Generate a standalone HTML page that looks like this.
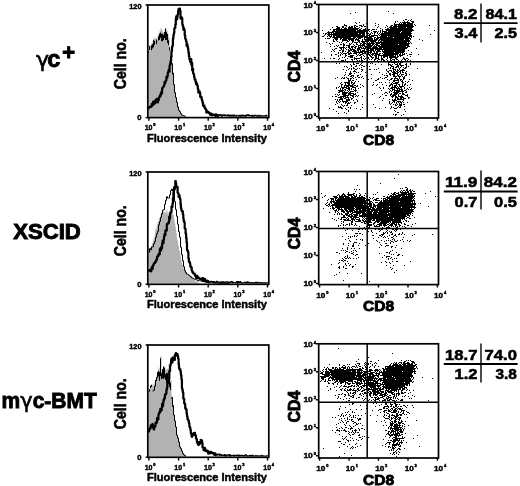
<!DOCTYPE html><html><head><meta charset="utf-8"><style>html,body{margin:0;padding:0;background:#fff;width:520px;height:486px;overflow:hidden}svg{display:block}text{font-family:'Liberation Sans',Arial,Helvetica,sans-serif;font-weight:bold;stroke:#000;stroke-width:0.45px}.h1{stroke-width:0.9px}.h2{stroke-width:0.6px}.h3{stroke-width:0.45px}</style></head><body>
<svg width="520" height="486" viewBox="0 0 520 486">
<rect width="520" height="486" fill="#fff"/>
<text x="36" y="66.9" font-size="22" style="font-family:'DejaVu Sans',sans-serif;font-weight:normal;stroke-width:0.6px">γ</text>
<text x="47.3" y="66.6" font-size="23.5" class="h1">c</text>
<text x="62.3" y="60" font-size="22" class="h1">+</text>
<text x="13.2" y="238.9" font-size="21.6" text-anchor="start" textLength="67.6" lengthAdjust="spacingAndGlyphs" class="h1">XSCID</text>
<text x="1.6" y="408.2" font-size="21.6" text-anchor="start" textLength="95.2" lengthAdjust="spacingAndGlyphs" class="h1">m<tspan style="font-family:'DejaVu Sans',sans-serif;font-weight:normal;stroke-width:0.6px">γ</tspan>c-BMT</text>
<path d="M148.5 51.6H149V54H149.4V51.8H149.9V52.2H150.4V52.1H150.8V51.1H151.3V50.1H151.8V51.8H152.3V51.1H152.7V48.5H153.2V52.1H153.7V50.3H154.1V48.1H154.6V49.3H155.1V47.5H155.5V47.4H156V47.8H156.5V45.2H157V46.6H157.4V47H157.9V46.5H158.4V44.5H158.8V45.5H159.3V42.7H159.8V43.9H160.2V44.4H160.7V42.4H161.2V43.5H161.7V45.2H162.1V45.8H162.6V43.9H163.1V43.9H163.5V42.1H164V42H164.5V41.9H164.9V44H165.4V44.6H165.9V43.5H166.4V43.3H166.8V45.1H167.3V45.9H167.8V46.4H168.2V48.8H168.7V48.7H169.2V50.6H169.6V51.4H170.1V54.4H170.6V57.3H171.1V60.3H171.5V65.1H172V70.3H172.5V74.9H172.9V79.6H173.4V84.1H173.9V88.6H174.3V90.8H174.8V93.9H175.3V95.3H175.8V98.8H176.2V100.6H176.7V103.3H177.2V105.1H177.6V106.3H178.1V108.1H178.6V109.2H179V110.8H179.5V112H180V112.3H180.5V113.5H180.9V113.8H181.4V114.7H181.9V114.8H182.3V115.2H182.8V115.5H183.3V115.4H183.7V115.7H184.2V116.1H184.7V116H185.2V116.1H185.6V116.4H186.1V116.5L186.1 116.7L148.5 116.7Z" fill="#b2b2b2" stroke="none"/>
<path d="M148.5 51.1H149.5V45.5H150.5V44.2H151.5V43H152.5V42.5H153.5V37.6H154.5V38.8H155.5V37.7H156.5V39.3H157.5V35.5H158.5V33.4H159.5V30.9H160.5V28.3H161.5V29.9H162.5V32.2H163.5V32.4H164.5V29.5H165.5V28.1H166.5V30.8H167.5V33.8H168.5V37.5H169.5V47.3H170.5V56H171.5V63.5H172.5V73.1H173.5V84.5H174.5V92.6H175.5V97.5H176.5V102.4H177.5V107H178.5V110.3H179.5V111.7H180.5V113.7H181.5V115H182.5V115.5H183.5V115.9H184.5V116.1H185.5V116.3L185.5 116.7L148.5 116.7Z" fill="#b2b2b2" stroke="none"/>
<path d="M148.5 51.2V52.5M149.5 46.1V50.1M151.5 45.5V50.2M152.5 44.2V48.5M153.5 40.2V47.3M154.5 40.9V44.8M156.5 39.7V44.1M158.5 36.4V40.4M159.5 33.7V39.9M160.5 32.6V37.8M161.5 33.9V41.1M162.5 33.9V41.3M163.5 34.8V40.1M164.5 32.1V38M165.5 28.6V40M166.5 32.1V39.9M167.5 34V42.9M168.5 40.3V45.2M169.5 47.3V50.4M171.5 63.5V64.5M172.5 73.2V74.5" stroke="#000" stroke-width="1" fill="none"/>
<path d="M170.5 56H171.5V63.5H172.5V73.1H173.5V84.5H174.5V92.6H175.5V97.5H176.5V102.4H177.5V107H178.5V110.3H179.5V111.7H180.5V113.7H181.5V115H182.5V115.5H183.5V115.9H184.5V116.1H185.5V116.3" fill="none" stroke="#000" stroke-width="1.0"/>
<path d="M148.5 108.3H149V107.4H149.4V106.8H149.9V106.9H150.4V106.6H150.8V106.9H151.3V105.9H151.8V103.9H152.3V105.5H152.7V105H153.2V101.5H153.7V103.7H154.1V103.6H154.6V103.4H155.1V102.6H155.5V100H156V100.8H156.5V98.9H157V100.1H157.4V102.4H157.9V100.4H158.4V100.2H158.8V98H159.3V96.9H159.8V95.7H160.2V96H160.7V93.3H161.2V92.2H161.7V93.5H162.1V88.7H162.6V87.3H163.1V87H163.5V86.3H164V85H164.5V82.1H164.9V82.9H165.4V81H165.9V80.6H166.4V76.9H166.8V77.7H167.3V76H167.8V72.7H168.2V71.9H168.7V69.6H169.2V71.6H169.6V65.6H170.1V63.7H170.6V61.2H171.1V57.1H171.5V51.3H172V46.9H172.5V45.4H172.9V38.4H173.4V35H173.9V32.9H174.3V28.4H174.8V28H175.3V24.7H175.8V18.7H176.2V16.3H176.7V19.3H177.2V16.9H177.6V14.6H178.1V11.1H178.6V8.8H179V10.5H179.5V8.5H180V10.9H180.5V18.6H180.9V18H181.4V17.3H181.9V18.6H182.3V24.6H182.8V26.5H183.3V29.7H183.7V28.3H184.2V30.3H184.7V35.3H185.2V38.7H185.6V39.8H186.1V41.6H186.6V45.8H187V44.4H187.5V46.9H188V49.2H188.4V52.5H188.9V56.4H189.4V59.4H189.9V59.3H190.3V62.2H190.8V59.2H191.3V64.8H191.7V62.9H192.2V70.4H192.7V68.9H193.1V73.3H193.6V74.5H194.1V77.3H194.6V79.5H195V79.6H195.5V81.7H196V84.1H196.4V83.2H196.9V85.1H197.4V85.8H197.8V88.9H198.3V92.6H198.8V92.6H199.3V91.4H199.7V93H200.2V97H200.7V96.6H201.1V97.1H201.6V99.3H202.1V100.9H202.5V102.7H203V105.7H203.5V106.1H204V105.6H204.4V107.6H204.9V108.2H205.4V109.2H205.8V109.5H206.3V112.4H206.8V111.1H207.2V112.1H207.7V112.6H208.2V112H208.7V112.9H209.1V113.2H209.6V113.3H210.1V114.8H210.5V113.8H211V113.7H211.5V114.5H211.9V115.3H212.4V115.1H212.9V114.5H213.4V114.6H213.8V114.8H214.3V115H214.8V115.5H215.2V115.8H215.7V114.3H216.2V115.4H216.6V114.9H217.1V115.8H217.6V115.9H218.1V115.2" fill="none" stroke="#000" stroke-width="2.2" stroke-linejoin="round"/>
<path d="M218.1 114.9H218.5V115H219V114.8H219.5V115.4H219.9V114.6H220.4V114.8H220.9V115H221.3V115.9H221.8V116.3H222.3V115.4H222.8V114.8H223.2V115.4H223.7V115H224.2V115.6H224.6V114.9H225.1V115.2H225.6V115.4H226V115.6H226.5V115.4H227V116H227.5V115.5H227.9V114.7H228.4V115.9H228.9V115.4H229.3V115.2H229.8V116.1H230.3V115.1H230.7V115.5H231.2V115.2H231.7V116.1H232.2V115.4H232.6V115.6H233.1V115H233.6V116.2H234V115.1H234.5V116H235V116H235.4V116.1H235.9V116.3H236.4V115.2H236.9V115.8H237.3V115.7H237.8V115.8H238.3V116.1H238.7V115.7H239.2V115.4H239.7V115.7H240.1V116.3H240.6V115.2H241.1V115.7H241.6V115.3H242V116.1H242.5V115H243V115.5H243.4V115.6H243.9V115.7H244.4V116.3H244.8V116.3H245.3V115.2H245.8V116.3H246.3V115.2H246.7V114.9H247.2V115H247.7V115.7H248.1V115.8H248.6V114.7H249.1V115.8H249.5V115.5H250V115.9H250.5V115.5H251V116H251.4V115.9H251.9V115.2H252.4V116.2H252.8V115.7H253.3V116H253.8V116.2H254.2V115.3H254.7V115.7H255.2V115.4H255.7V115.3H256.1V115.8H256.6V115.9H257.1V116.3H257.5V116.3H258V115.8H258.5V115.4H258.9V116.3H259.4V116.3H259.9V115.8H260.4V115.5H260.8V115.7H261.3V115.9H261.8V116.2H262.2V116.2H262.7V116H263.2V115.7H263.6V115.9H264.1V115.7H264.6V115.9H265.1V115.8H265.5V116.1H266V115.2H266.5V115.8H266.9V115.8H267.4V115.5" fill="none" stroke="#000" stroke-width="1.1"/>
<rect x="147.8" y="5" width="121" height="112.6" fill="none" stroke="#000" stroke-width="1.7"/>
<path d="M148.9 117.6v3.2M178.6 117.6v3.2M208.2 117.6v3.2M237.8 117.6v3.2M267.5 117.6v3.2M145.6 5h2.2M145.6 117.6h2.2" stroke="#000" stroke-width="1.4" fill="none"/>
<text x="141.5" y="9" font-size="7.6" text-anchor="end" textLength="12.2" lengthAdjust="spacingAndGlyphs">120</text>
<text x="141.5" y="120" font-size="7.6" text-anchor="end">0</text>
<text x="148.6" y="129.8" font-size="8" text-anchor="middle" textLength="7.8" lengthAdjust="spacingAndGlyphs">10</text>
<text x="153.2" y="126.2" font-size="4" text-anchor="start">0</text>
<text x="178.2" y="129.8" font-size="8" text-anchor="middle" textLength="7.8" lengthAdjust="spacingAndGlyphs">10</text>
<text x="182.9" y="126.2" font-size="4" text-anchor="start">1</text>
<text x="207.9" y="129.8" font-size="8" text-anchor="middle" textLength="7.8" lengthAdjust="spacingAndGlyphs">10</text>
<text x="212.5" y="126.2" font-size="4" text-anchor="start">2</text>
<text x="237.5" y="129.8" font-size="8" text-anchor="middle" textLength="7.8" lengthAdjust="spacingAndGlyphs">10</text>
<text x="242.2" y="126.2" font-size="4" text-anchor="start">3</text>
<text x="267.2" y="129.8" font-size="8" text-anchor="middle" textLength="7.8" lengthAdjust="spacingAndGlyphs">10</text>
<text x="271.8" y="126.2" font-size="4" text-anchor="start">4</text>
<text x="147" y="141.7" font-size="10.6" text-anchor="start" textLength="120" lengthAdjust="spacingAndGlyphs" class="h3">Fluorescence Intensity</text>
<text transform="translate(125.6 63.8) rotate(-90)" x="0" y="0" font-size="15.6" text-anchor="middle" textLength="51" lengthAdjust="spacingAndGlyphs" class="h2">Cell no.</text>
<path d="M148.5 249.9H149V248.7H149.4V248.4H149.9V248.1H150.4V247.4H150.8V245.9H151.3V245.9H151.8V244.1H152.3V243H152.7V241.7H153.2V239.8H153.7V238.4H154.1V237.7H154.6V234.5H155.1V231.2H155.5V229H156V229.1H156.5V226.4H157V225.1H157.4V223.2H157.9V221.9H158.4V220.7H158.8V218.3H159.3V218.1H159.8V217.6H160.2V216.3H160.7V213.2H161.2V212.9H161.7V212.2H162.1V212.7H162.6V213.5H163.1V212.6H163.5V210.2H164V211.7H164.5V212.2H164.9V210.6H165.4V213.1H165.9V210.6H166.4V212.7H166.8V214H167.3V210.5H167.8V211.6H168.2V212.8H168.7V215H169.2V211.1H169.6V213.8H170.1V213.8H170.6V213.1H171.1V212.7H171.5V213H172V213.2H172.5V212.2H172.9V215.1H173.4V214.7H173.9V218.1H174.3V220.5H174.8V223.7H175.3V227.2H175.8V229.5H176.2V233H176.7V237.6H177.2V239.9H177.6V241.6H178.1V245.3H178.6V246.9H179V250.4H179.5V251.5H180V254H180.5V256.5H180.9V260H181.4V261.7H181.9V263.8H182.3V265H182.8V266.6H183.3V268H183.7V269.6H184.2V270.4H184.7V270.7H185.2V271.6H185.6V273.2H186.1V274.1H186.6V274.5H187V274.4H187.5V275.8H188V275.6H188.4V275.7H188.9V275.9H189.4V276H189.9V277H190.3V277.2H190.8V276.5H191.3V277H191.7V277.4H192.2V277.9H192.7V277.4H193.1V279H193.6V279.7H194.1V279.8H194.6V280.4H195V281.3H195.5V281.3H196V281.2H196.4V281.5H196.9V281.8H197.4V282H197.8V282.5H198.3V282.6H198.8V283H199.3V283.3H199.7V283.4L199.7 283.4L148.5 283.4Z" fill="#b2b2b2" stroke="none"/>
<path d="M148.5 252.2H149.5V248.6H150.5V249.8H151.5V247H152.5V246.8H153.5V243.8H154.5V241.4H155.5V237.3H156.5V233.8H157.5V231.3H158.5V224.8H159.5V221.5H160.5V217.3H161.5V213.8H162.5V210.2H163.5V209.5H164.5V204.3H165.5V200.4H166.5V196.7H167.5V198.1H168.5V198H169.5V194.9H170.5V190.6H171.5V189.1H172.5V191.1H173.5V186.7H174.5V201.6H175.5V209.6H176.5V216.3H177.5V224.2H178.5V231.7H179.5V237.2H180.5V247.3H181.5V254.7H182.5V260.8H183.5V266.7H184.5V270.6H185.5V272.6H186.5V274.1H187.5V274.5H188.5V275.3H189.5V276H190.5V276.8H191.5V277.9H192.5V278.4H193.5V278.9H194.5V279.3H195.5V279.7H196.5V279.9H197.5V280.9H198.5V280.6H199.5V280.8H200.5V281H201.5V280.7H202.5V281.5H203.5V281.7H204.5V281.8H205.5V282H206.5V282.4H207.5V282.3H208.5V282.4H209.5V282.8H210.5V282.5H211.5V282.4H212.5V282.8H213.5V282.9H214.5V282.7H215.5V283.2H216.5V283H217.5V283H218.5V283H219.5V283.1H220.5V283.3H221.5V283.2H222.5V283.3H223.5V283.1H224.5V283.4H225.5V283.4H226.5V283.2H227.5V282.8H228.5V283.3H229.5V283.4" fill="none" stroke="#000" stroke-width="1.0" stroke-linejoin="miter"/>
<path d="M148.5 270.8H149V270.6H149.4V270.2H149.9V270.2H150.4V271.2H150.8V271.3H151.3V268.7H151.8V267.2H152.3V268.9H152.7V265.9H153.2V265.1H153.7V263.8H154.1V263H154.6V263H155.1V261.5H155.5V261.7H156V260.1H156.5V259.7H157V257.2H157.4V256.4H157.9V256H158.4V254.6H158.8V253.6H159.3V254.3H159.8V249.4H160.2V248.3H160.7V250.3H161.2V246.9H161.7V248.1H162.1V243.8H162.6V240.5H163.1V243.2H163.5V239.9H164V236.5H164.5V234H164.9V234.9H165.4V230.4H165.9V230.8H166.4V230.6H166.8V224.4H167.3V223.5H167.8V223.6H168.2V223.3H168.7V221.5H169.2V216.5H169.6V218.4H170.1V213.4H170.6V212.2H171.1V212H171.5V206.3H172V207.1H172.5V203.7H172.9V198.4H173.4V192.7H173.9V189.4H174.3V189.4H174.8V187.4H175.3V181.2H175.8V183.3H176.2V187.1H176.7V186.8H177.2V186.9H177.6V192.8H178.1V193.6H178.6V197H179V195.2H179.5V197.3H180V199.3H180.5V204.2H180.9V208.3H181.4V210.6H181.9V211.3H182.3V211.1H182.8V214.4H183.3V218.7H183.7V221H184.2V222.5H184.7V228.5H185.2V228.9H185.6V233.5H186.1V238.1H186.6V242.7H187V250.3H187.5V250.7H188V252.5H188.4V258.5H188.9V261.8H189.4V262H189.9V263.7H190.3V266.4H190.8V267.3H191.3V267.4H191.7V270.5H192.2V272H192.7V272.1H193.1V273.3H193.6V273.7H194.1V273.6H194.6V274.4H195V275.8H195.5V275.5H196V277.7H196.4V278.2H196.9V275.8H197.4V277.6H197.8V277.3H198.3V277.5H198.8V278.3H199.3V278.3H199.7V279H200.2V279H200.7V279.2H201.1V278.6H201.6V279.1H202.1V280.5H202.5V278.1H203V281H203.5V279.7H204V280.9H204.4V278.8H204.9V280.3H205.4V281.2H205.8V281H206.3V281.6H206.8V280.7H207.2V281.1H207.7V281.2H208.2V282H208.7V282.1H209.1V281.9H209.6V281.9" fill="none" stroke="#000" stroke-width="2.2" stroke-linejoin="round"/>
<path d="M209.6 281.6H210.1V281.6H210.5V281.8H211V281.4H211.5V281.8H211.9V281.8H212.4V281.6H212.9V281.6H213.4V282.6H213.8V281.6H214.3V282.1H214.8V282.6H215.2V282.3H215.7V282H216.2V282.5H216.6V281.4H217.1V281.5H217.6V281.9H218.1V282H218.5V282.1H219V282.9H219.5V282.9H219.9V282.2H220.4V282.3H220.9V281.8H221.3V282.4H221.8V281.7H222.3V282.8H222.8V282H223.2V282.5H223.7V281.7H224.2V282.8H224.6V282.5H225.1V283H225.6V282.3H226V281.7H226.5V282H227V281.8H227.5V283H227.9V282.1H228.4V282.1H228.9V282.6H229.3V282.5H229.8V282.6H230.3V282.2H230.7V281.6H231.2V281.9H231.7V281.6H232.2V282.9H232.6V282.8H233.1V282.3H233.6V282.7H234V282.7H234.5V282.7H235V282.7H235.4V282.8H235.9V282.5H236.4V281.7H236.9V281.5H237.3V283H237.8V282.8H238.3V281.6H238.7V282.6H239.2V282.2H239.7V282.3H240.1V281.6H240.6V282.9H241.1V282.5H241.6V282.9H242V283H242.5V283H243V283H243.4V282.7H243.9V282.7H244.4V282.4H244.8V282.8H245.3V282.5H245.8V282.2H246.3V283H246.7V282.9H247.2V281.7H247.7V282H248.1V282.6H248.6V282.2H249.1V283H249.5V282.7H250V282.9H250.5V283H251V283H251.4V282.6H251.9V282.9H252.4V282.8H252.8V283H253.3V282.9H253.8V283H254.2V282.9H254.7V282.6H255.2V282.8H255.7V282.4H256.1V282.9H256.6V283H257.1V282.6H257.5V282.3H258V282.8H258.5V282.7H258.9V282.9H259.4V282.7H259.9V282.9H260.4V282.6H260.8V283H261.3V282.9H261.8V283H262.2V283H262.7V282.9H263.2V283H263.6V282.9H264.1V282.9H264.6V283H265.1V283H265.5V282.7H266V282.8H266.5V282.8H266.9V282.9H267.4V283" fill="none" stroke="#000" stroke-width="1.1"/>
<rect x="147.8" y="172" width="121" height="112.3" fill="none" stroke="#000" stroke-width="1.7"/>
<path d="M148.9 284.3v3.2M178.6 284.3v3.2M208.2 284.3v3.2M237.8 284.3v3.2M267.5 284.3v3.2M145.6 172h2.2M145.6 284.3h2.2" stroke="#000" stroke-width="1.4" fill="none"/>
<text x="141.5" y="176" font-size="7.6" text-anchor="end" textLength="12.2" lengthAdjust="spacingAndGlyphs">120</text>
<text x="141.5" y="286.7" font-size="7.6" text-anchor="end">0</text>
<text x="148.6" y="296.5" font-size="8" text-anchor="middle" textLength="7.8" lengthAdjust="spacingAndGlyphs">10</text>
<text x="153.2" y="292.9" font-size="4" text-anchor="start">0</text>
<text x="178.2" y="296.5" font-size="8" text-anchor="middle" textLength="7.8" lengthAdjust="spacingAndGlyphs">10</text>
<text x="182.9" y="292.9" font-size="4" text-anchor="start">1</text>
<text x="207.9" y="296.5" font-size="8" text-anchor="middle" textLength="7.8" lengthAdjust="spacingAndGlyphs">10</text>
<text x="212.5" y="292.9" font-size="4" text-anchor="start">2</text>
<text x="237.5" y="296.5" font-size="8" text-anchor="middle" textLength="7.8" lengthAdjust="spacingAndGlyphs">10</text>
<text x="242.2" y="292.9" font-size="4" text-anchor="start">3</text>
<text x="267.2" y="296.5" font-size="8" text-anchor="middle" textLength="7.8" lengthAdjust="spacingAndGlyphs">10</text>
<text x="271.8" y="292.9" font-size="4" text-anchor="start">4</text>
<text x="147" y="308.4" font-size="10.6" text-anchor="start" textLength="120" lengthAdjust="spacingAndGlyphs" class="h3">Fluorescence Intensity</text>
<text transform="translate(125.6 230.8) rotate(-90)" x="0" y="0" font-size="15.6" text-anchor="middle" textLength="51" lengthAdjust="spacingAndGlyphs" class="h2">Cell no.</text>
<path d="M148.5 392H149V391H149.4V390.8H149.9V391H150.4V388.4H150.8V389.2H151.3V385.5H151.8V385.5H152.3V387.2H152.7V386.6H153.2V384.6H153.7V383.4H154.1V384H154.6V382.1H155.1V383.6H155.5V383.2H156V382.7H156.5V380.9H157V382.7H157.4V381.4H157.9V381.3H158.4V381.2H158.8V381.6H159.3V382.4H159.8V382.9H160.2V383H160.7V384.7H161.2V382.1H161.7V383.8H162.1V382.1H162.6V382.7H163.1V381.9H163.5V384.5H164V383.6H164.5V383.6H164.9V383.5H165.4V385.3H165.9V384.7H166.4V386.4H166.8V389.2H167.3V387.7H167.8V388.5H168.2V389.4H168.7V392.3H169.2V392.5H169.6V392.6H170.1V393.5H170.6V395.3H171.1V395.6H171.5V401.9H172V403.3H172.5V406.7H172.9V410.3H173.4V412.4H173.9V416H174.3V419.7H174.8V422.7H175.3V424.7H175.8V429.4H176.2V431.4H176.7V434.7H177.2V436.7H177.6V438H178.1V441.5H178.6V442.4H179V443.7H179.5V445.6H180V447.8H180.5V449.1H180.9V449.9H181.4V451.4H181.9V451.8H182.3V453.1H182.8V454.1H183.3V454.7H183.7V455.2H184.2V455.5H184.7V455.9H185.2V456.2H185.6V456.4L185.6 456.4L148.5 456.4Z" fill="#b2b2b2" stroke="none"/>
<path d="M148.5 391.4H149.5V389.2H150.5V385.6H151.5V384.2H152.5V390.9H153.5V390.4H154.5V386.3H155.5V380.2H156.5V375.6H157.5V370.7H158.5V367.6H159.5V369.2H160.5V355.9H161.5V371.6H162.5V368.9H163.5V366.3H164.5V366.3H165.5V370.3H166.5V369.1H167.5V368.6H168.5V363.9H169.5V365.4H170.5V380.2H171.5V397.3H172.5V405.5H173.5V415H174.5V420.9H175.5V427H176.5V435.1H177.5V437.9H178.5V442.1H179.5V446.9H180.5V448.6H181.5V451H182.5V453.4H183.5V454.8H184.5V455.6H185.5V456.3L185.5 456.4L148.5 456.4Z" fill="#b2b2b2" stroke="none"/>
<path d="M149.5 389.4V390.1M150.5 385.7V388.1M151.5 384.8V386.8M155.5 380.2V381.6M156.5 377.3V381M157.5 372.2V378.1M158.5 371V376.3M159.5 372V380.8M160.5 358.2V376.2M161.5 373.2V379.1M162.5 369.1V378.5M163.5 366.5V378.7M164.5 368.1V377.9M165.5 374.2V380M166.5 372.9V382.9M167.5 373.1V386.8M169.5 373.3V387.1M170.5 382.8V389.9M171.5 397.8V398.7M172.5 405.9V406.9" stroke="#000" stroke-width="1" fill="none"/>
<path d="M148.5 391.4H149.5V389.2" fill="none" stroke="#000" stroke-width="1.0"/>
<path d="M152.5 390.9H153.5V390.4H154.5V386.3H155.5V380.2" fill="none" stroke="#000" stroke-width="1.0"/>
<path d="M171.5 397.3H172.5V405.5H173.5V415H174.5V420.9H175.5V427H176.5V435.1H177.5V437.9H178.5V442.1H179.5V446.9H180.5V448.6H181.5V451H182.5V453.4H183.5V454.8H184.5V455.6H185.5V456.3" fill="none" stroke="#000" stroke-width="1.0"/>
<path d="M148.5 431.6H149V430H149.4V428.8H149.9V428.8H150.4V427.4H150.8V425.4H151.3V426.5H151.8V426.7H152.3V424H152.7V427.4H153.2V426.8H153.7V429.4H154.1V426.2H154.6V426.8H155.1V426.1H155.5V422.6H156V422.6H156.5V422.7H157V418.1H157.4V418.7H157.9V419.4H158.4V414.9H158.8V413.6H159.3V412.2H159.8V412.3H160.2V409.1H160.7V410.6H161.2V410.3H161.7V407.7H162.1V403.8H162.6V405.9H163.1V402.4H163.5V400.2H164V398.8H164.5V398.3H164.9V394.7H165.4V394.6H165.9V393.5H166.4V390.2H166.8V388H167.3V381.9H167.8V383.5H168.2V379.5H168.7V378.4H169.2V371.3H169.6V371.1H170.1V365.8H170.6V363.8H171.1V359.8H171.5V358.6H172V362.4H172.5V357.7H172.9V358.7H173.4V358.2H173.9V359.8H174.3V360H174.8V355.1H175.3V354.7H175.8V353.2H176.2V355.3H176.7V355.5H177.2V354.2H177.6V356.2H178.1V358.6H178.6V364.2H179V368.2H179.5V369.6H180V369.4H180.5V372.1H180.9V375H181.4V379.3H181.9V388H182.3V390H182.8V392.6H183.3V398.4H183.7V398.9H184.2V403.4H184.7V404.1H185.2V408.4H185.6V408.4H186.1V409.7H186.6V413.5H187V416.3H187.5V419.2H188V419.8H188.4V421.2H188.9V423.3H189.4V426.7H189.9V427.5H190.3V429.8H190.8V433H191.3V435H191.7V436.8H192.2V435.3H192.7V433.8H193.1V435.2H193.6V434.3H194.1V432.8H194.6V432.9H195V435.1H195.5V435.7H196V438.6H196.4V439H196.9V442.1H197.4V443.5H197.8V443.6H198.3V445H198.8V442.1H199.3V443.3H199.7V443.7H200.2V442.7H200.7V439.8H201.1V441.4H201.6V440.7H202.1V443.2H202.5V447.4H203V447.8H203.5V450.1H204V448.3H204.4V447.8H204.9V449.1H205.4V451H205.8V451H206.3V451.3H206.8V450.6H207.2V450.9H207.7V451H208.2V453.6H208.7V451.8H209.1V453.2H209.6V452H210.1V453.2H210.5V451.8H211V452.3H211.5V453.1H211.9V452.6H212.4V452.9H212.9V453.3H213.4V453.2H213.8V454.6H214.3V454.5H214.8V453.3H215.2V455.2H215.7V454.4H216.2V454.6H216.6V454.6H217.1V455.2" fill="none" stroke="#000" stroke-width="2.2" stroke-linejoin="round"/>
<path d="M217.1 454.9H217.6V454.9H218.1V454.3H218.5V454.7H219V454.1H219.5V455.6H219.9V454.4H220.4V454.5H220.9V454.6H221.3V455.1H221.8V455.4H222.3V455H222.8V455.2H223.2V455.1H223.7V455.8H224.2V455.4H224.6V454.6H225.1V455.9H225.6V455.5H226V456H226.5V455.1H227V455.2H227.5V455.3H227.9V454.8H228.4V455.2H228.9V455.9H229.3V455.7H229.8V454.5H230.3V455.9H230.7V455.6H231.2V455.8H231.7V455.5H232.2V455.5H232.6V455.5H233.1V455.5H233.6V455.1H234V455.9H234.5V455.6H235V455.7H235.4V455.7H235.9V455.4H236.4V455.5H236.9V455.1H237.3V455.7H237.8V455.7H238.3V455.5H238.7V455H239.2V456H239.7V455.5H240.1V455.6H240.6V455.5H241.1V455.4H241.6V455.5H242V455.3H242.5V455.5H243V456H243.4V456H243.9V456H244.4V455.5H244.8V455.1H245.3V455.3H245.8V454.8H246.3V456H246.7V456H247.2V455.8H247.7V455.9H248.1V456H248.6V455.8H249.1V456H249.5V455.5H250V455.7H250.5V455.8H251V455.3H251.4V455.6H251.9V456H252.4V456H252.8V455.2H253.3V456H253.8V456H254.2V456H254.7V456H255.2V456H255.7V455.6H256.1V456H256.6V455.7H257.1V455.9H257.5V456H258V456H258.5V456H258.9V455.9H259.4V456H259.9V456H260.4V456H260.8V456H261.3V455.3H261.8V456H262.2V456H262.7V455.8H263.2V456H263.6V456H264.1V456H264.6V456H265.1V456H265.5V456H266V456H266.5V456H266.9V455.8H267.4V456" fill="none" stroke="#000" stroke-width="1.1"/>
<rect x="147.8" y="345" width="121" height="112.3" fill="none" stroke="#000" stroke-width="1.7"/>
<path d="M148.9 457.3v3.2M178.6 457.3v3.2M208.2 457.3v3.2M237.8 457.3v3.2M267.5 457.3v3.2M145.6 345h2.2M145.6 457.3h2.2" stroke="#000" stroke-width="1.4" fill="none"/>
<text x="141.5" y="349" font-size="7.6" text-anchor="end" textLength="12.2" lengthAdjust="spacingAndGlyphs">120</text>
<text x="141.5" y="459.7" font-size="7.6" text-anchor="end">0</text>
<text x="148.6" y="469.5" font-size="8" text-anchor="middle" textLength="7.8" lengthAdjust="spacingAndGlyphs">10</text>
<text x="153.2" y="465.9" font-size="4" text-anchor="start">0</text>
<text x="178.2" y="469.5" font-size="8" text-anchor="middle" textLength="7.8" lengthAdjust="spacingAndGlyphs">10</text>
<text x="182.9" y="465.9" font-size="4" text-anchor="start">1</text>
<text x="207.9" y="469.5" font-size="8" text-anchor="middle" textLength="7.8" lengthAdjust="spacingAndGlyphs">10</text>
<text x="212.5" y="465.9" font-size="4" text-anchor="start">2</text>
<text x="237.5" y="469.5" font-size="8" text-anchor="middle" textLength="7.8" lengthAdjust="spacingAndGlyphs">10</text>
<text x="242.2" y="465.9" font-size="4" text-anchor="start">3</text>
<text x="267.2" y="469.5" font-size="8" text-anchor="middle" textLength="7.8" lengthAdjust="spacingAndGlyphs">10</text>
<text x="271.8" y="465.9" font-size="4" text-anchor="start">4</text>
<text x="147" y="481.4" font-size="10.6" text-anchor="start" textLength="120" lengthAdjust="spacingAndGlyphs" class="h3">Fluorescence Intensity</text>
<text transform="translate(125.6 403.8) rotate(-90)" x="0" y="0" font-size="15.6" text-anchor="middle" textLength="51" lengthAdjust="spacingAndGlyphs" class="h2">Cell no.</text>
<path d="M321 52.5h1M322 30.5h1M322 36.5h1M323 33.5h1M323 36.5h1M324 35.5h1M324 58.5h1M325 33.5h1M325 34.5h1M325 38.5h1M326 33.5h1M326 42.5h1M327 32.5h1M327 34.5h1M327 36.5h1M327 38.5h1M328 31.5h1M328 32.5h1M328 33.5h1M328 34.5h1M328 35.5h1M328 38.5h1M329 32.5h1M329 33.5h1M329 34.5h1M329 35.5h1M329 36.5h1M329 38.5h1M329 43.5h1M329 108.5h1M330 29.5h1M330 32.5h1M330 34.5h1M330 36.5h1M330 37.5h1M330 44.5h1M330 46.5h1M330 58.5h1M331 32.5h1M331 33.5h1M331 34.5h1M331 35.5h1M331 36.5h1M331 51.5h1M331 54.5h1M331 55.5h1M332 27.5h1M332 31.5h1M332 32.5h1M332 34.5h1M332 37.5h1M332 43.5h1M332 49.5h1M332 96.5h1M333 29.5h1M333 30.5h1M333 31.5h1M333 32.5h1M333 33.5h1M333 34.5h1M333 35.5h1M333 36.5h1M333 37.5h1M333 39.5h1M333 40.5h1M333 41.5h1M333 50.5h1M333 58.5h1M333 109.5h1M334 29.5h1M334 30.5h1M334 31.5h1M334 33.5h1M334 34.5h1M334 35.5h1M334 36.5h1M334 37.5h1M334 38.5h1M334 41.5h1M334 46.5h1M334 49.5h1M334 51.5h1M334 58.5h1M335 29.5h1M335 31.5h1M335 32.5h1M335 33.5h1M335 34.5h1M335 35.5h1M335 37.5h1M335 38.5h1M335 39.5h1M335 48.5h1M335 54.5h1M335 78.5h1M335 94.5h1M335 96.5h1M335 99.5h1M335 104.5h1M336 26.5h1M336 28.5h1M336 29.5h1M336 30.5h1M336 31.5h1M336 32.5h1M336 33.5h1M336 34.5h1M336 35.5h1M336 36.5h1M336 37.5h1M336 38.5h1M336 39.5h1M336 40.5h1M336 45.5h1M336 48.5h1M336 54.5h1M336 63.5h1M336 87.5h1M336 88.5h1M336 96.5h1M336 101.5h1M336 102.5h1M336 111.5h1M337 26.5h1M337 27.5h1M337 28.5h1M337 29.5h1M337 30.5h1M337 31.5h1M337 32.5h1M337 33.5h1M337 34.5h1M337 35.5h1M337 36.5h1M337 37.5h1M337 38.5h1M337 39.5h1M337 41.5h1M337 46.5h1M337 77.5h1M337 94.5h1M337 99.5h1M337 100.5h1M337 103.5h1M338 27.5h1M338 28.5h1M338 29.5h1M338 30.5h1M338 31.5h1M338 32.5h1M338 33.5h1M338 34.5h1M338 35.5h1M338 36.5h1M338 37.5h1M338 45.5h1M338 52.5h1M338 53.5h1M338 55.5h1M338 56.5h1M338 59.5h1M338 87.5h1M338 90.5h1M338 92.5h1M338 95.5h1M338 97.5h1M338 101.5h1M338 106.5h1M338 107.5h1M338 113.5h1M339 27.5h1M339 28.5h1M339 29.5h1M339 30.5h1M339 31.5h1M339 32.5h1M339 33.5h1M339 34.5h1M339 35.5h1M339 36.5h1M339 37.5h1M339 42.5h1M339 47.5h1M339 50.5h1M339 58.5h1M339 63.5h1M339 86.5h1M339 90.5h1M339 91.5h1M339 92.5h1M339 94.5h1M339 97.5h1M339 99.5h1M339 100.5h1M339 102.5h1M339 107.5h1M340 29.5h1M340 30.5h1M340 31.5h1M340 32.5h1M340 33.5h1M340 34.5h1M340 35.5h1M340 36.5h1M340 37.5h1M340 38.5h1M340 39.5h1M340 44.5h1M340 47.5h1M340 48.5h1M340 50.5h1M340 52.5h1M340 54.5h1M340 55.5h1M340 83.5h1M340 88.5h1M340 89.5h1M340 90.5h1M340 91.5h1M340 96.5h1M340 97.5h1M340 98.5h1M340 99.5h1M340 101.5h1M340 106.5h1M340 107.5h1M341 28.5h1M341 29.5h1M341 30.5h1M341 31.5h1M341 32.5h1M341 33.5h1M341 34.5h1M341 35.5h1M341 36.5h1M341 37.5h1M341 38.5h1M341 42.5h1M341 44.5h1M341 47.5h1M341 48.5h1M341 49.5h1M341 53.5h1M341 60.5h1M341 78.5h1M341 82.5h1M341 84.5h1M341 85.5h1M341 86.5h1M341 87.5h1M341 90.5h1M341 91.5h1M341 96.5h1M341 97.5h1M341 98.5h1M341 99.5h1M341 104.5h1M341 107.5h1M341 108.5h1M342 26.5h1M342 27.5h1M342 29.5h1M342 30.5h1M342 31.5h1M342 32.5h1M342 33.5h1M342 34.5h1M342 35.5h1M342 36.5h1M342 37.5h1M342 39.5h1M342 40.5h1M342 41.5h1M342 47.5h1M342 50.5h1M342 51.5h1M342 52.5h1M342 54.5h1M342 57.5h1M342 60.5h1M342 77.5h1M342 84.5h1M342 87.5h1M342 88.5h1M342 89.5h1M342 90.5h1M342 91.5h1M342 92.5h1M342 93.5h1M342 94.5h1M342 96.5h1M342 98.5h1M342 99.5h1M342 100.5h1M342 101.5h1M342 105.5h1M342 108.5h1M343 26.5h1M343 27.5h1M343 29.5h1M343 30.5h1M343 31.5h1M343 32.5h1M343 33.5h1M343 34.5h1M343 35.5h1M343 36.5h1M343 37.5h1M343 38.5h1M343 39.5h1M343 40.5h1M343 43.5h1M343 44.5h1M343 45.5h1M343 46.5h1M343 47.5h1M343 48.5h1M343 49.5h1M343 50.5h1M343 51.5h1M343 53.5h1M343 60.5h1M343 69.5h1M343 78.5h1M343 87.5h1M343 88.5h1M343 90.5h1M343 92.5h1M343 93.5h1M343 94.5h1M343 95.5h1M343 96.5h1M343 97.5h1M343 101.5h1M343 102.5h1M343 106.5h1M344 24.5h1M344 25.5h1M344 28.5h1M344 29.5h1M344 30.5h1M344 31.5h1M344 32.5h1M344 33.5h1M344 34.5h1M344 35.5h1M344 36.5h1M344 37.5h1M344 38.5h1M344 39.5h1M344 40.5h1M344 44.5h1M344 45.5h1M344 47.5h1M344 53.5h1M344 57.5h1M344 66.5h1M344 75.5h1M344 77.5h1M344 78.5h1M344 82.5h1M344 85.5h1M344 86.5h1M344 87.5h1M344 89.5h1M344 91.5h1M344 92.5h1M344 93.5h1M344 94.5h1M344 95.5h1M344 96.5h1M344 98.5h1M344 101.5h1M344 105.5h1M344 112.5h1M345 25.5h1M345 27.5h1M345 28.5h1M345 29.5h1M345 30.5h1M345 31.5h1M345 32.5h1M345 33.5h1M345 34.5h1M345 35.5h1M345 36.5h1M345 37.5h1M345 38.5h1M345 39.5h1M345 40.5h1M345 48.5h1M345 51.5h1M345 53.5h1M345 54.5h1M345 55.5h1M345 56.5h1M345 59.5h1M345 60.5h1M345 72.5h1M345 74.5h1M345 82.5h1M345 83.5h1M345 84.5h1M345 85.5h1M345 87.5h1M345 89.5h1M345 90.5h1M345 92.5h1M345 93.5h1M345 94.5h1M345 95.5h1M345 96.5h1M345 97.5h1M345 98.5h1M345 101.5h1M345 102.5h1M345 103.5h1M345 108.5h1M346 25.5h1M346 26.5h1M346 28.5h1M346 29.5h1M346 30.5h1M346 31.5h1M346 32.5h1M346 33.5h1M346 34.5h1M346 35.5h1M346 36.5h1M346 37.5h1M346 38.5h1M346 39.5h1M346 40.5h1M346 42.5h1M346 45.5h1M346 47.5h1M346 49.5h1M346 53.5h1M346 55.5h1M346 66.5h1M346 70.5h1M346 77.5h1M346 82.5h1M346 85.5h1M346 86.5h1M346 87.5h1M346 88.5h1M346 92.5h1M346 93.5h1M346 95.5h1M346 97.5h1M346 99.5h1M346 100.5h1M346 101.5h1M346 102.5h1M346 105.5h1M346 109.5h1M346 113.5h1M347 29.5h1M347 30.5h1M347 31.5h1M347 32.5h1M347 33.5h1M347 34.5h1M347 35.5h1M347 36.5h1M347 37.5h1M347 38.5h1M347 40.5h1M347 41.5h1M347 45.5h1M347 52.5h1M347 58.5h1M347 61.5h1M347 62.5h1M347 67.5h1M347 78.5h1M347 82.5h1M347 83.5h1M347 85.5h1M347 86.5h1M347 88.5h1M347 90.5h1M347 92.5h1M347 95.5h1M347 96.5h1M347 97.5h1M347 99.5h1M347 100.5h1M347 101.5h1M347 103.5h1M347 104.5h1M347 105.5h1M348 27.5h1M348 28.5h1M348 29.5h1M348 30.5h1M348 31.5h1M348 32.5h1M348 33.5h1M348 34.5h1M348 35.5h1M348 36.5h1M348 37.5h1M348 38.5h1M348 39.5h1M348 41.5h1M348 45.5h1M348 46.5h1M348 47.5h1M348 49.5h1M348 50.5h1M348 51.5h1M348 52.5h1M348 53.5h1M348 54.5h1M348 56.5h1M348 69.5h1M348 75.5h1M348 78.5h1M348 79.5h1M348 80.5h1M348 81.5h1M348 82.5h1M348 83.5h1M348 84.5h1M348 85.5h1M348 86.5h1M348 87.5h1M348 88.5h1M348 89.5h1M348 91.5h1M348 93.5h1M348 94.5h1M348 95.5h1M348 97.5h1M348 98.5h1M348 99.5h1M348 100.5h1M348 102.5h1M348 103.5h1M348 107.5h1M348 110.5h1M348 111.5h1M349 26.5h1M349 27.5h1M349 28.5h1M349 29.5h1M349 30.5h1M349 31.5h1M349 32.5h1M349 33.5h1M349 34.5h1M349 35.5h1M349 36.5h1M349 37.5h1M349 38.5h1M349 39.5h1M349 40.5h1M349 43.5h1M349 44.5h1M349 45.5h1M349 46.5h1M349 47.5h1M349 48.5h1M349 50.5h1M349 51.5h1M349 53.5h1M349 54.5h1M349 56.5h1M349 68.5h1M349 73.5h1M349 74.5h1M349 80.5h1M349 81.5h1M349 82.5h1M349 83.5h1M349 84.5h1M349 85.5h1M349 87.5h1M349 88.5h1M349 89.5h1M349 90.5h1M349 92.5h1M349 93.5h1M349 94.5h1M349 99.5h1M349 100.5h1M349 103.5h1M350 13.5h1M350 27.5h1M350 28.5h1M350 29.5h1M350 30.5h1M350 31.5h1M350 32.5h1M350 33.5h1M350 34.5h1M350 35.5h1M350 36.5h1M350 37.5h1M350 38.5h1M350 39.5h1M350 44.5h1M350 48.5h1M350 49.5h1M350 50.5h1M350 52.5h1M350 53.5h1M350 55.5h1M350 56.5h1M350 57.5h1M350 64.5h1M350 71.5h1M350 72.5h1M350 73.5h1M350 74.5h1M350 76.5h1M350 78.5h1M350 79.5h1M350 80.5h1M350 85.5h1M350 86.5h1M350 91.5h1M350 92.5h1M350 93.5h1M350 94.5h1M350 95.5h1M350 97.5h1M350 102.5h1M350 107.5h1M350 108.5h1M351 26.5h1M351 27.5h1M351 28.5h1M351 29.5h1M351 30.5h1M351 31.5h1M351 32.5h1M351 33.5h1M351 34.5h1M351 35.5h1M351 36.5h1M351 38.5h1M351 39.5h1M351 40.5h1M351 43.5h1M351 46.5h1M351 47.5h1M351 49.5h1M351 50.5h1M351 53.5h1M351 55.5h1M351 56.5h1M351 57.5h1M351 59.5h1M351 65.5h1M351 66.5h1M351 68.5h1M351 69.5h1M351 73.5h1M351 75.5h1M351 76.5h1M351 78.5h1M351 81.5h1M351 82.5h1M351 83.5h1M351 85.5h1M351 86.5h1M351 88.5h1M351 89.5h1M351 91.5h1M351 93.5h1M351 95.5h1M351 98.5h1M351 99.5h1M351 105.5h1M352 26.5h1M352 27.5h1M352 28.5h1M352 29.5h1M352 30.5h1M352 31.5h1M352 32.5h1M352 33.5h1M352 34.5h1M352 35.5h1M352 36.5h1M352 38.5h1M352 39.5h1M352 40.5h1M352 41.5h1M352 42.5h1M352 46.5h1M352 47.5h1M352 48.5h1M352 49.5h1M352 51.5h1M352 55.5h1M352 56.5h1M352 57.5h1M352 59.5h1M352 60.5h1M352 75.5h1M352 77.5h1M352 80.5h1M352 82.5h1M352 84.5h1M352 85.5h1M352 86.5h1M352 87.5h1M352 91.5h1M352 93.5h1M352 95.5h1M352 96.5h1M352 98.5h1M353 28.5h1M353 29.5h1M353 30.5h1M353 31.5h1M353 32.5h1M353 33.5h1M353 34.5h1M353 35.5h1M353 36.5h1M353 37.5h1M353 38.5h1M353 39.5h1M353 40.5h1M353 41.5h1M353 44.5h1M353 46.5h1M353 49.5h1M353 50.5h1M353 51.5h1M353 53.5h1M353 55.5h1M353 62.5h1M353 63.5h1M353 64.5h1M353 67.5h1M353 68.5h1M353 71.5h1M353 75.5h1M353 76.5h1M353 78.5h1M353 80.5h1M353 83.5h1M353 84.5h1M353 86.5h1M353 87.5h1M353 89.5h1M353 91.5h1M353 93.5h1M353 94.5h1M353 95.5h1M353 96.5h1M353 97.5h1M353 100.5h1M354 25.5h1M354 26.5h1M354 27.5h1M354 28.5h1M354 29.5h1M354 30.5h1M354 31.5h1M354 32.5h1M354 33.5h1M354 34.5h1M354 35.5h1M354 36.5h1M354 37.5h1M354 38.5h1M354 42.5h1M354 45.5h1M354 47.5h1M354 49.5h1M354 50.5h1M354 51.5h1M354 52.5h1M354 53.5h1M354 57.5h1M354 58.5h1M354 59.5h1M354 61.5h1M354 64.5h1M354 68.5h1M354 70.5h1M354 71.5h1M354 73.5h1M354 82.5h1M354 83.5h1M354 85.5h1M354 87.5h1M354 90.5h1M354 94.5h1M354 102.5h1M354 103.5h1M355 12.5h1M355 22.5h1M355 25.5h1M355 27.5h1M355 28.5h1M355 29.5h1M355 30.5h1M355 31.5h1M355 32.5h1M355 33.5h1M355 34.5h1M355 35.5h1M355 36.5h1M355 37.5h1M355 39.5h1M355 40.5h1M355 42.5h1M355 46.5h1M355 47.5h1M355 48.5h1M355 50.5h1M355 51.5h1M355 52.5h1M355 53.5h1M355 58.5h1M355 66.5h1M355 69.5h1M355 71.5h1M355 77.5h1M355 81.5h1M355 85.5h1M355 87.5h1M355 88.5h1M355 89.5h1M355 90.5h1M355 91.5h1M355 93.5h1M355 94.5h1M355 96.5h1M355 102.5h1M356 23.5h1M356 26.5h1M356 28.5h1M356 29.5h1M356 31.5h1M356 32.5h1M356 33.5h1M356 34.5h1M356 35.5h1M356 36.5h1M356 38.5h1M356 39.5h1M356 42.5h1M356 43.5h1M356 44.5h1M356 46.5h1M356 51.5h1M356 52.5h1M356 53.5h1M356 54.5h1M356 56.5h1M356 58.5h1M356 59.5h1M356 63.5h1M356 65.5h1M356 66.5h1M356 69.5h1M356 72.5h1M356 79.5h1M356 86.5h1M356 90.5h1M356 95.5h1M356 99.5h1M356 108.5h1M357 26.5h1M357 28.5h1M357 29.5h1M357 30.5h1M357 31.5h1M357 32.5h1M357 33.5h1M357 34.5h1M357 35.5h1M357 36.5h1M357 37.5h1M357 39.5h1M357 40.5h1M357 42.5h1M357 44.5h1M357 48.5h1M357 49.5h1M357 50.5h1M357 52.5h1M357 55.5h1M357 58.5h1M357 60.5h1M357 63.5h1M357 68.5h1M357 75.5h1M357 76.5h1M357 85.5h1M357 86.5h1M357 92.5h1M357 96.5h1M357 100.5h1M357 101.5h1M358 28.5h1M358 30.5h1M358 31.5h1M358 32.5h1M358 34.5h1M358 35.5h1M358 36.5h1M358 37.5h1M358 38.5h1M358 39.5h1M358 40.5h1M358 41.5h1M358 45.5h1M358 46.5h1M358 47.5h1M358 48.5h1M358 49.5h1M358 50.5h1M358 51.5h1M358 52.5h1M358 54.5h1M358 58.5h1M358 63.5h1M358 72.5h1M358 75.5h1M358 77.5h1M358 81.5h1M358 88.5h1M358 95.5h1M359 22.5h1M359 25.5h1M359 27.5h1M359 29.5h1M359 30.5h1M359 31.5h1M359 32.5h1M359 33.5h1M359 34.5h1M359 35.5h1M359 36.5h1M359 37.5h1M359 38.5h1M359 40.5h1M359 41.5h1M359 42.5h1M359 45.5h1M359 47.5h1M359 48.5h1M359 49.5h1M359 52.5h1M359 53.5h1M359 55.5h1M359 58.5h1M359 60.5h1M359 65.5h1M359 68.5h1M359 77.5h1M360 25.5h1M360 29.5h1M360 30.5h1M360 31.5h1M360 32.5h1M360 33.5h1M360 34.5h1M360 35.5h1M360 36.5h1M360 37.5h1M360 38.5h1M360 43.5h1M360 44.5h1M360 45.5h1M360 46.5h1M360 47.5h1M360 49.5h1M360 50.5h1M360 51.5h1M360 52.5h1M360 54.5h1M360 55.5h1M360 57.5h1M360 64.5h1M360 74.5h1M360 84.5h1M360 87.5h1M360 109.5h1M361 25.5h1M361 26.5h1M361 28.5h1M361 30.5h1M361 31.5h1M361 32.5h1M361 33.5h1M361 35.5h1M361 36.5h1M361 37.5h1M361 41.5h1M361 43.5h1M361 45.5h1M361 47.5h1M361 48.5h1M361 51.5h1M361 52.5h1M361 54.5h1M361 56.5h1M361 57.5h1M361 58.5h1M361 59.5h1M361 60.5h1M361 61.5h1M361 63.5h1M361 65.5h1M361 67.5h1M361 69.5h1M361 71.5h1M361 77.5h1M362 26.5h1M362 30.5h1M362 31.5h1M362 32.5h1M362 33.5h1M362 34.5h1M362 35.5h1M362 36.5h1M362 37.5h1M362 39.5h1M362 40.5h1M362 41.5h1M362 42.5h1M362 44.5h1M362 45.5h1M362 46.5h1M362 48.5h1M362 50.5h1M362 51.5h1M362 52.5h1M362 53.5h1M362 54.5h1M362 60.5h1M362 61.5h1M362 62.5h1M362 65.5h1M362 69.5h1M362 70.5h1M362 76.5h1M362 85.5h1M362 96.5h1M362 104.5h1M362 107.5h1M363 24.5h1M363 25.5h1M363 29.5h1M363 30.5h1M363 31.5h1M363 32.5h1M363 33.5h1M363 34.5h1M363 35.5h1M363 36.5h1M363 41.5h1M363 42.5h1M363 43.5h1M363 44.5h1M363 45.5h1M363 47.5h1M363 48.5h1M363 50.5h1M363 51.5h1M363 53.5h1M363 55.5h1M363 58.5h1M363 66.5h1M363 78.5h1M363 86.5h1M364 26.5h1M364 29.5h1M364 30.5h1M364 31.5h1M364 32.5h1M364 33.5h1M364 34.5h1M364 35.5h1M364 36.5h1M364 37.5h1M364 38.5h1M364 39.5h1M364 41.5h1M364 42.5h1M364 43.5h1M364 44.5h1M364 45.5h1M364 46.5h1M364 48.5h1M364 49.5h1M364 50.5h1M364 51.5h1M364 52.5h1M364 53.5h1M364 56.5h1M364 59.5h1M364 66.5h1M365 26.5h1M365 28.5h1M365 29.5h1M365 30.5h1M365 31.5h1M365 36.5h1M365 37.5h1M365 39.5h1M365 40.5h1M365 41.5h1M365 43.5h1M365 46.5h1M365 47.5h1M365 48.5h1M365 51.5h1M365 52.5h1M365 53.5h1M365 58.5h1M365 72.5h1M366 23.5h1M366 30.5h1M366 31.5h1M366 32.5h1M366 33.5h1M366 35.5h1M366 36.5h1M366 37.5h1M366 39.5h1M366 40.5h1M366 41.5h1M366 44.5h1M366 46.5h1M366 47.5h1M366 49.5h1M366 51.5h1M366 54.5h1M366 61.5h1M366 65.5h1M366 75.5h1M367 20.5h1M367 24.5h1M367 26.5h1M367 28.5h1M367 30.5h1M367 33.5h1M367 34.5h1M367 36.5h1M367 37.5h1M367 38.5h1M367 43.5h1M367 44.5h1M367 46.5h1M367 47.5h1M367 48.5h1M367 49.5h1M367 50.5h1M367 51.5h1M367 52.5h1M367 53.5h1M367 54.5h1M367 55.5h1M367 57.5h1M367 79.5h1M368 29.5h1M368 30.5h1M368 33.5h1M368 35.5h1M368 37.5h1M368 38.5h1M368 39.5h1M368 40.5h1M368 41.5h1M368 43.5h1M368 44.5h1M368 45.5h1M368 46.5h1M368 47.5h1M368 48.5h1M368 49.5h1M368 50.5h1M368 51.5h1M368 52.5h1M368 53.5h1M368 54.5h1M368 57.5h1M368 58.5h1M368 62.5h1M368 79.5h1M369 29.5h1M369 31.5h1M369 34.5h1M369 35.5h1M369 36.5h1M369 37.5h1M369 38.5h1M369 39.5h1M369 40.5h1M369 42.5h1M369 43.5h1M369 44.5h1M369 45.5h1M369 46.5h1M369 47.5h1M369 48.5h1M369 50.5h1M369 52.5h1M369 54.5h1M369 55.5h1M369 59.5h1M369 61.5h1M369 66.5h1M369 69.5h1M370 33.5h1M370 34.5h1M370 36.5h1M370 37.5h1M370 38.5h1M370 39.5h1M370 40.5h1M370 41.5h1M370 43.5h1M370 44.5h1M370 45.5h1M370 46.5h1M370 47.5h1M370 48.5h1M370 49.5h1M370 50.5h1M370 51.5h1M370 52.5h1M370 53.5h1M370 55.5h1M370 56.5h1M370 61.5h1M370 63.5h1M370 69.5h1M371 30.5h1M371 32.5h1M371 35.5h1M371 36.5h1M371 37.5h1M371 38.5h1M371 39.5h1M371 40.5h1M371 41.5h1M371 42.5h1M371 43.5h1M371 45.5h1M371 46.5h1M371 48.5h1M371 49.5h1M371 50.5h1M371 51.5h1M371 52.5h1M371 54.5h1M371 56.5h1M371 57.5h1M371 59.5h1M371 61.5h1M371 62.5h1M371 74.5h1M371 78.5h1M372 29.5h1M372 33.5h1M372 35.5h1M372 36.5h1M372 38.5h1M372 39.5h1M372 40.5h1M372 41.5h1M372 42.5h1M372 43.5h1M372 44.5h1M372 45.5h1M372 47.5h1M372 48.5h1M372 49.5h1M372 50.5h1M372 53.5h1M372 54.5h1M372 55.5h1M372 57.5h1M372 58.5h1M372 63.5h1M372 85.5h1M372 94.5h1M373 29.5h1M373 31.5h1M373 35.5h1M373 36.5h1M373 40.5h1M373 41.5h1M373 42.5h1M373 43.5h1M373 44.5h1M373 46.5h1M373 47.5h1M373 48.5h1M373 49.5h1M373 50.5h1M373 51.5h1M373 53.5h1M373 54.5h1M373 57.5h1M373 82.5h1M373 84.5h1M373 104.5h1M374 29.5h1M374 31.5h1M374 32.5h1M374 33.5h1M374 34.5h1M374 35.5h1M374 37.5h1M374 38.5h1M374 39.5h1M374 40.5h1M374 41.5h1M374 43.5h1M374 45.5h1M374 46.5h1M374 47.5h1M374 48.5h1M374 51.5h1M374 52.5h1M374 53.5h1M374 55.5h1M374 59.5h1M374 60.5h1M374 69.5h1M374 93.5h1M375 23.5h1M375 25.5h1M375 31.5h1M375 32.5h1M375 35.5h1M375 37.5h1M375 39.5h1M375 40.5h1M375 41.5h1M375 42.5h1M375 44.5h1M375 46.5h1M375 47.5h1M375 48.5h1M375 49.5h1M375 50.5h1M375 53.5h1M375 54.5h1M375 55.5h1M375 56.5h1M375 57.5h1M375 58.5h1M375 59.5h1M375 61.5h1M375 64.5h1M375 80.5h1M375 107.5h1M376 29.5h1M376 31.5h1M376 35.5h1M376 38.5h1M376 39.5h1M376 40.5h1M376 42.5h1M376 43.5h1M376 44.5h1M376 45.5h1M376 46.5h1M376 47.5h1M376 48.5h1M376 49.5h1M376 51.5h1M376 52.5h1M376 53.5h1M376 54.5h1M376 55.5h1M376 56.5h1M376 57.5h1M376 58.5h1M376 61.5h1M376 69.5h1M376 80.5h1M376 85.5h1M377 27.5h1M377 32.5h1M377 33.5h1M377 35.5h1M377 36.5h1M377 37.5h1M377 38.5h1M377 39.5h1M377 42.5h1M377 43.5h1M377 44.5h1M377 45.5h1M377 47.5h1M377 48.5h1M377 49.5h1M377 50.5h1M377 51.5h1M377 52.5h1M377 53.5h1M377 54.5h1M377 58.5h1M377 60.5h1M377 79.5h1M377 84.5h1M378 24.5h1M378 26.5h1M378 31.5h1M378 34.5h1M378 37.5h1M378 38.5h1M378 40.5h1M378 41.5h1M378 42.5h1M378 43.5h1M378 45.5h1M378 46.5h1M378 48.5h1M378 49.5h1M378 50.5h1M378 51.5h1M378 54.5h1M378 55.5h1M378 56.5h1M378 57.5h1M378 58.5h1M378 59.5h1M378 62.5h1M378 68.5h1M378 78.5h1M378 79.5h1M379 33.5h1M379 35.5h1M379 37.5h1M379 39.5h1M379 40.5h1M379 42.5h1M379 43.5h1M379 45.5h1M379 46.5h1M379 47.5h1M379 48.5h1M379 49.5h1M379 50.5h1M379 51.5h1M379 53.5h1M379 54.5h1M379 55.5h1M379 59.5h1M379 72.5h1M379 82.5h1M379 87.5h1M379 97.5h1M379 108.5h1M380 28.5h1M380 30.5h1M380 31.5h1M380 32.5h1M380 34.5h1M380 36.5h1M380 37.5h1M380 38.5h1M380 39.5h1M380 41.5h1M380 42.5h1M380 44.5h1M380 46.5h1M380 47.5h1M380 48.5h1M380 49.5h1M380 51.5h1M380 53.5h1M380 55.5h1M380 61.5h1M380 77.5h1M380 88.5h1M380 96.5h1M381 33.5h1M381 34.5h1M381 35.5h1M381 36.5h1M381 37.5h1M381 38.5h1M381 39.5h1M381 40.5h1M381 41.5h1M381 42.5h1M381 43.5h1M381 44.5h1M381 45.5h1M381 46.5h1M381 47.5h1M381 48.5h1M381 49.5h1M381 55.5h1M381 56.5h1M381 57.5h1M381 58.5h1M381 59.5h1M381 60.5h1M381 64.5h1M381 82.5h1M381 90.5h1M382 29.5h1M382 30.5h1M382 31.5h1M382 32.5h1M382 33.5h1M382 34.5h1M382 35.5h1M382 36.5h1M382 37.5h1M382 38.5h1M382 39.5h1M382 40.5h1M382 42.5h1M382 43.5h1M382 44.5h1M382 45.5h1M382 46.5h1M382 47.5h1M382 49.5h1M382 50.5h1M382 51.5h1M382 53.5h1M382 55.5h1M382 58.5h1M382 59.5h1M382 74.5h1M382 78.5h1M382 84.5h1M382 94.5h1M382 100.5h1M383 31.5h1M383 33.5h1M383 34.5h1M383 35.5h1M383 36.5h1M383 37.5h1M383 38.5h1M383 39.5h1M383 40.5h1M383 41.5h1M383 42.5h1M383 43.5h1M383 44.5h1M383 45.5h1M383 46.5h1M383 47.5h1M383 48.5h1M383 49.5h1M383 51.5h1M383 52.5h1M383 54.5h1M383 55.5h1M383 56.5h1M383 57.5h1M383 59.5h1M383 60.5h1M383 87.5h1M383 88.5h1M383 98.5h1M384 31.5h1M384 32.5h1M384 33.5h1M384 34.5h1M384 35.5h1M384 36.5h1M384 37.5h1M384 38.5h1M384 39.5h1M384 40.5h1M384 41.5h1M384 42.5h1M384 43.5h1M384 44.5h1M384 45.5h1M384 46.5h1M384 47.5h1M384 48.5h1M384 49.5h1M384 50.5h1M384 51.5h1M384 52.5h1M384 53.5h1M384 54.5h1M384 55.5h1M384 56.5h1M384 57.5h1M384 60.5h1M384 75.5h1M384 78.5h1M384 93.5h1M385 27.5h1M385 29.5h1M385 31.5h1M385 32.5h1M385 33.5h1M385 34.5h1M385 35.5h1M385 36.5h1M385 37.5h1M385 38.5h1M385 39.5h1M385 40.5h1M385 41.5h1M385 42.5h1M385 43.5h1M385 44.5h1M385 45.5h1M385 46.5h1M385 47.5h1M385 48.5h1M385 49.5h1M385 50.5h1M385 51.5h1M385 52.5h1M385 53.5h1M385 54.5h1M385 55.5h1M385 56.5h1M385 61.5h1M385 77.5h1M385 82.5h1M385 92.5h1M385 95.5h1M385 107.5h1M386 25.5h1M386 29.5h1M386 30.5h1M386 31.5h1M386 32.5h1M386 33.5h1M386 34.5h1M386 35.5h1M386 36.5h1M386 37.5h1M386 38.5h1M386 39.5h1M386 40.5h1M386 41.5h1M386 42.5h1M386 43.5h1M386 44.5h1M386 45.5h1M386 46.5h1M386 47.5h1M386 48.5h1M386 49.5h1M386 50.5h1M386 51.5h1M386 52.5h1M386 53.5h1M386 54.5h1M386 55.5h1M386 56.5h1M386 59.5h1M386 69.5h1M386 70.5h1M386 73.5h1M386 75.5h1M386 77.5h1M386 85.5h1M386 92.5h1M386 95.5h1M387 26.5h1M387 28.5h1M387 29.5h1M387 30.5h1M387 32.5h1M387 33.5h1M387 34.5h1M387 35.5h1M387 37.5h1M387 38.5h1M387 39.5h1M387 40.5h1M387 41.5h1M387 42.5h1M387 43.5h1M387 44.5h1M387 45.5h1M387 46.5h1M387 47.5h1M387 48.5h1M387 49.5h1M387 50.5h1M387 51.5h1M387 52.5h1M387 53.5h1M387 54.5h1M387 55.5h1M387 56.5h1M387 57.5h1M387 58.5h1M387 60.5h1M387 71.5h1M387 75.5h1M387 76.5h1M387 79.5h1M387 93.5h1M388 11.5h1M388 28.5h1M388 29.5h1M388 30.5h1M388 31.5h1M388 32.5h1M388 33.5h1M388 34.5h1M388 35.5h1M388 36.5h1M388 37.5h1M388 38.5h1M388 39.5h1M388 40.5h1M388 41.5h1M388 42.5h1M388 43.5h1M388 44.5h1M388 45.5h1M388 46.5h1M388 47.5h1M388 48.5h1M388 49.5h1M388 50.5h1M388 51.5h1M388 52.5h1M388 53.5h1M388 54.5h1M388 55.5h1M388 62.5h1M388 63.5h1M388 64.5h1M388 65.5h1M388 68.5h1M388 71.5h1M388 72.5h1M388 88.5h1M389 27.5h1M389 29.5h1M389 30.5h1M389 31.5h1M389 32.5h1M389 33.5h1M389 34.5h1M389 35.5h1M389 36.5h1M389 37.5h1M389 38.5h1M389 39.5h1M389 40.5h1M389 41.5h1M389 42.5h1M389 43.5h1M389 44.5h1M389 45.5h1M389 46.5h1M389 47.5h1M389 48.5h1M389 49.5h1M389 50.5h1M389 51.5h1M389 52.5h1M389 53.5h1M389 54.5h1M389 55.5h1M389 56.5h1M389 57.5h1M389 61.5h1M389 62.5h1M389 64.5h1M389 70.5h1M389 73.5h1M389 74.5h1M389 80.5h1M389 82.5h1M389 85.5h1M389 86.5h1M389 89.5h1M389 91.5h1M389 92.5h1M389 99.5h1M389 101.5h1M389 102.5h1M389 103.5h1M390 26.5h1M390 27.5h1M390 28.5h1M390 29.5h1M390 30.5h1M390 31.5h1M390 32.5h1M390 33.5h1M390 34.5h1M390 35.5h1M390 36.5h1M390 37.5h1M390 38.5h1M390 39.5h1M390 40.5h1M390 41.5h1M390 42.5h1M390 43.5h1M390 44.5h1M390 45.5h1M390 46.5h1M390 47.5h1M390 48.5h1M390 49.5h1M390 50.5h1M390 51.5h1M390 52.5h1M390 53.5h1M390 54.5h1M390 55.5h1M390 56.5h1M390 57.5h1M390 58.5h1M390 59.5h1M390 60.5h1M390 64.5h1M390 65.5h1M390 67.5h1M390 68.5h1M390 70.5h1M390 73.5h1M390 74.5h1M390 75.5h1M390 79.5h1M390 84.5h1M390 85.5h1M390 88.5h1M390 90.5h1M390 94.5h1M390 95.5h1M390 104.5h1M390 108.5h1M391 25.5h1M391 26.5h1M391 27.5h1M391 28.5h1M391 29.5h1M391 30.5h1M391 31.5h1M391 32.5h1M391 33.5h1M391 34.5h1M391 35.5h1M391 36.5h1M391 37.5h1M391 38.5h1M391 39.5h1M391 40.5h1M391 41.5h1M391 42.5h1M391 43.5h1M391 44.5h1M391 45.5h1M391 46.5h1M391 47.5h1M391 48.5h1M391 49.5h1M391 50.5h1M391 51.5h1M391 52.5h1M391 53.5h1M391 54.5h1M391 55.5h1M391 56.5h1M391 57.5h1M391 58.5h1M391 60.5h1M391 61.5h1M391 62.5h1M391 65.5h1M391 66.5h1M391 70.5h1M391 71.5h1M391 78.5h1M391 79.5h1M391 83.5h1M391 84.5h1M391 87.5h1M391 88.5h1M391 91.5h1M391 93.5h1M391 94.5h1M391 96.5h1M391 103.5h1M391 106.5h1M391 107.5h1M392 25.5h1M392 27.5h1M392 28.5h1M392 29.5h1M392 30.5h1M392 31.5h1M392 32.5h1M392 33.5h1M392 34.5h1M392 35.5h1M392 36.5h1M392 37.5h1M392 38.5h1M392 39.5h1M392 40.5h1M392 41.5h1M392 42.5h1M392 43.5h1M392 44.5h1M392 45.5h1M392 46.5h1M392 47.5h1M392 48.5h1M392 49.5h1M392 50.5h1M392 51.5h1M392 52.5h1M392 53.5h1M392 54.5h1M392 55.5h1M392 56.5h1M392 57.5h1M392 59.5h1M392 61.5h1M392 62.5h1M392 64.5h1M392 66.5h1M392 68.5h1M392 72.5h1M392 74.5h1M392 78.5h1M392 82.5h1M392 84.5h1M392 85.5h1M392 86.5h1M392 87.5h1M392 88.5h1M392 89.5h1M392 90.5h1M392 95.5h1M392 96.5h1M392 97.5h1M392 99.5h1M392 100.5h1M392 102.5h1M393 13.5h1M393 26.5h1M393 27.5h1M393 28.5h1M393 29.5h1M393 30.5h1M393 31.5h1M393 32.5h1M393 33.5h1M393 34.5h1M393 35.5h1M393 36.5h1M393 38.5h1M393 39.5h1M393 40.5h1M393 41.5h1M393 42.5h1M393 43.5h1M393 44.5h1M393 45.5h1M393 46.5h1M393 47.5h1M393 48.5h1M393 49.5h1M393 50.5h1M393 51.5h1M393 52.5h1M393 53.5h1M393 54.5h1M393 55.5h1M393 56.5h1M393 57.5h1M393 59.5h1M393 61.5h1M393 62.5h1M393 66.5h1M393 67.5h1M393 68.5h1M393 69.5h1M393 70.5h1M393 71.5h1M393 72.5h1M393 73.5h1M393 74.5h1M393 75.5h1M393 76.5h1M393 80.5h1M393 81.5h1M393 83.5h1M393 87.5h1M393 89.5h1M393 92.5h1M393 94.5h1M393 95.5h1M393 96.5h1M393 100.5h1M393 101.5h1M393 104.5h1M393 107.5h1M393 114.5h1M394 23.5h1M394 24.5h1M394 25.5h1M394 26.5h1M394 27.5h1M394 28.5h1M394 29.5h1M394 30.5h1M394 31.5h1M394 32.5h1M394 33.5h1M394 34.5h1M394 35.5h1M394 36.5h1M394 37.5h1M394 38.5h1M394 39.5h1M394 40.5h1M394 41.5h1M394 42.5h1M394 43.5h1M394 44.5h1M394 45.5h1M394 46.5h1M394 47.5h1M394 48.5h1M394 49.5h1M394 50.5h1M394 51.5h1M394 53.5h1M394 54.5h1M394 56.5h1M394 57.5h1M394 59.5h1M394 60.5h1M394 62.5h1M394 63.5h1M394 69.5h1M394 71.5h1M394 72.5h1M394 73.5h1M394 74.5h1M394 75.5h1M394 76.5h1M394 78.5h1M394 79.5h1M394 80.5h1M394 81.5h1M394 83.5h1M394 85.5h1M394 86.5h1M394 87.5h1M394 88.5h1M394 89.5h1M394 90.5h1M394 91.5h1M394 92.5h1M394 93.5h1M394 94.5h1M394 95.5h1M394 99.5h1M394 100.5h1M394 101.5h1M394 102.5h1M394 108.5h1M394 110.5h1M395 21.5h1M395 22.5h1M395 24.5h1M395 25.5h1M395 26.5h1M395 27.5h1M395 28.5h1M395 29.5h1M395 30.5h1M395 31.5h1M395 32.5h1M395 33.5h1M395 34.5h1M395 35.5h1M395 36.5h1M395 37.5h1M395 38.5h1M395 39.5h1M395 40.5h1M395 41.5h1M395 42.5h1M395 43.5h1M395 44.5h1M395 45.5h1M395 46.5h1M395 47.5h1M395 48.5h1M395 49.5h1M395 50.5h1M395 51.5h1M395 52.5h1M395 53.5h1M395 54.5h1M395 55.5h1M395 56.5h1M395 57.5h1M395 58.5h1M395 62.5h1M395 64.5h1M395 67.5h1M395 69.5h1M395 70.5h1M395 72.5h1M395 73.5h1M395 76.5h1M395 77.5h1M395 78.5h1M395 80.5h1M395 82.5h1M395 83.5h1M395 85.5h1M395 86.5h1M395 87.5h1M395 90.5h1M395 92.5h1M395 93.5h1M395 94.5h1M395 95.5h1M395 96.5h1M395 97.5h1M395 98.5h1M395 99.5h1M395 100.5h1M395 104.5h1M395 105.5h1M395 108.5h1M395 111.5h1M395 114.5h1M395 115.5h1M396 24.5h1M396 25.5h1M396 26.5h1M396 27.5h1M396 28.5h1M396 29.5h1M396 30.5h1M396 31.5h1M396 32.5h1M396 33.5h1M396 34.5h1M396 35.5h1M396 36.5h1M396 37.5h1M396 38.5h1M396 39.5h1M396 40.5h1M396 41.5h1M396 42.5h1M396 43.5h1M396 44.5h1M396 45.5h1M396 46.5h1M396 47.5h1M396 48.5h1M396 49.5h1M396 50.5h1M396 51.5h1M396 52.5h1M396 53.5h1M396 54.5h1M396 57.5h1M396 58.5h1M396 59.5h1M396 62.5h1M396 64.5h1M396 66.5h1M396 67.5h1M396 71.5h1M396 73.5h1M396 76.5h1M396 78.5h1M396 80.5h1M396 82.5h1M396 83.5h1M396 84.5h1M396 85.5h1M396 87.5h1M396 88.5h1M396 90.5h1M396 91.5h1M396 92.5h1M396 93.5h1M396 94.5h1M396 96.5h1M396 97.5h1M396 100.5h1M396 102.5h1M396 103.5h1M396 105.5h1M396 108.5h1M396 114.5h1M397 21.5h1M397 24.5h1M397 26.5h1M397 28.5h1M397 29.5h1M397 30.5h1M397 31.5h1M397 32.5h1M397 33.5h1M397 34.5h1M397 35.5h1M397 36.5h1M397 37.5h1M397 38.5h1M397 39.5h1M397 40.5h1M397 41.5h1M397 42.5h1M397 43.5h1M397 44.5h1M397 45.5h1M397 46.5h1M397 47.5h1M397 48.5h1M397 49.5h1M397 50.5h1M397 51.5h1M397 52.5h1M397 53.5h1M397 54.5h1M397 55.5h1M397 56.5h1M397 57.5h1M397 59.5h1M397 61.5h1M397 63.5h1M397 64.5h1M397 65.5h1M397 66.5h1M397 69.5h1M397 70.5h1M397 71.5h1M397 72.5h1M397 73.5h1M397 74.5h1M397 75.5h1M397 78.5h1M397 79.5h1M397 80.5h1M397 82.5h1M397 83.5h1M397 86.5h1M397 88.5h1M397 89.5h1M397 90.5h1M397 91.5h1M397 92.5h1M397 93.5h1M397 97.5h1M397 98.5h1M397 99.5h1M397 101.5h1M397 104.5h1M397 107.5h1M397 112.5h1M398 24.5h1M398 25.5h1M398 26.5h1M398 27.5h1M398 28.5h1M398 29.5h1M398 30.5h1M398 31.5h1M398 32.5h1M398 33.5h1M398 34.5h1M398 35.5h1M398 36.5h1M398 37.5h1M398 38.5h1M398 39.5h1M398 40.5h1M398 41.5h1M398 42.5h1M398 43.5h1M398 45.5h1M398 46.5h1M398 47.5h1M398 48.5h1M398 49.5h1M398 50.5h1M398 51.5h1M398 52.5h1M398 53.5h1M398 56.5h1M398 60.5h1M398 62.5h1M398 65.5h1M398 66.5h1M398 67.5h1M398 70.5h1M398 72.5h1M398 75.5h1M398 76.5h1M398 79.5h1M398 80.5h1M398 81.5h1M398 82.5h1M398 84.5h1M398 87.5h1M398 88.5h1M398 90.5h1M398 91.5h1M398 92.5h1M398 94.5h1M398 95.5h1M398 96.5h1M398 98.5h1M398 99.5h1M398 101.5h1M398 102.5h1M398 106.5h1M398 112.5h1M399 23.5h1M399 24.5h1M399 25.5h1M399 26.5h1M399 27.5h1M399 28.5h1M399 29.5h1M399 30.5h1M399 31.5h1M399 32.5h1M399 33.5h1M399 34.5h1M399 35.5h1M399 36.5h1M399 37.5h1M399 38.5h1M399 39.5h1M399 40.5h1M399 41.5h1M399 42.5h1M399 43.5h1M399 44.5h1M399 45.5h1M399 46.5h1M399 47.5h1M399 48.5h1M399 49.5h1M399 50.5h1M399 51.5h1M399 52.5h1M399 54.5h1M399 55.5h1M399 61.5h1M399 63.5h1M399 64.5h1M399 68.5h1M399 69.5h1M399 71.5h1M399 74.5h1M399 76.5h1M399 77.5h1M399 78.5h1M399 84.5h1M399 85.5h1M399 86.5h1M399 88.5h1M399 89.5h1M399 90.5h1M399 91.5h1M399 93.5h1M399 96.5h1M399 99.5h1M399 101.5h1M399 103.5h1M399 104.5h1M399 105.5h1M399 107.5h1M400 22.5h1M400 24.5h1M400 25.5h1M400 26.5h1M400 27.5h1M400 28.5h1M400 29.5h1M400 30.5h1M400 31.5h1M400 33.5h1M400 34.5h1M400 35.5h1M400 36.5h1M400 37.5h1M400 38.5h1M400 39.5h1M400 40.5h1M400 41.5h1M400 42.5h1M400 43.5h1M400 44.5h1M400 45.5h1M400 46.5h1M400 47.5h1M400 48.5h1M400 49.5h1M400 50.5h1M400 51.5h1M400 52.5h1M400 53.5h1M400 54.5h1M400 55.5h1M400 56.5h1M400 62.5h1M400 63.5h1M400 64.5h1M400 65.5h1M400 67.5h1M400 70.5h1M400 71.5h1M400 72.5h1M400 73.5h1M400 76.5h1M400 79.5h1M400 80.5h1M400 86.5h1M400 87.5h1M400 89.5h1M400 91.5h1M400 93.5h1M400 96.5h1M400 97.5h1M400 98.5h1M400 99.5h1M400 101.5h1M400 102.5h1M400 104.5h1M400 105.5h1M400 106.5h1M400 107.5h1M401 23.5h1M401 24.5h1M401 25.5h1M401 26.5h1M401 27.5h1M401 28.5h1M401 29.5h1M401 30.5h1M401 32.5h1M401 33.5h1M401 34.5h1M401 35.5h1M401 36.5h1M401 37.5h1M401 38.5h1M401 39.5h1M401 40.5h1M401 41.5h1M401 42.5h1M401 43.5h1M401 44.5h1M401 45.5h1M401 46.5h1M401 47.5h1M401 48.5h1M401 49.5h1M401 50.5h1M401 51.5h1M401 52.5h1M401 55.5h1M401 60.5h1M401 61.5h1M401 62.5h1M401 65.5h1M401 66.5h1M401 70.5h1M401 74.5h1M401 75.5h1M401 79.5h1M401 81.5h1M401 86.5h1M401 87.5h1M401 88.5h1M401 89.5h1M401 90.5h1M401 91.5h1M401 95.5h1M401 96.5h1M401 97.5h1M401 98.5h1M401 99.5h1M401 102.5h1M401 103.5h1M401 104.5h1M401 105.5h1M401 115.5h1M402 22.5h1M402 24.5h1M402 25.5h1M402 26.5h1M402 27.5h1M402 28.5h1M402 29.5h1M402 30.5h1M402 31.5h1M402 32.5h1M402 33.5h1M402 34.5h1M402 35.5h1M402 36.5h1M402 37.5h1M402 38.5h1M402 39.5h1M402 40.5h1M402 41.5h1M402 42.5h1M402 43.5h1M402 44.5h1M402 45.5h1M402 46.5h1M402 47.5h1M402 48.5h1M402 49.5h1M402 50.5h1M402 51.5h1M402 52.5h1M402 53.5h1M402 54.5h1M402 55.5h1M402 59.5h1M402 62.5h1M402 65.5h1M402 69.5h1M402 70.5h1M402 71.5h1M402 72.5h1M402 74.5h1M402 76.5h1M402 80.5h1M402 81.5h1M402 82.5h1M402 83.5h1M402 84.5h1M402 85.5h1M402 86.5h1M402 89.5h1M402 90.5h1M402 91.5h1M402 92.5h1M402 93.5h1M402 94.5h1M402 96.5h1M402 97.5h1M402 99.5h1M402 101.5h1M403 20.5h1M403 22.5h1M403 23.5h1M403 24.5h1M403 25.5h1M403 26.5h1M403 27.5h1M403 28.5h1M403 29.5h1M403 30.5h1M403 31.5h1M403 32.5h1M403 33.5h1M403 34.5h1M403 35.5h1M403 36.5h1M403 37.5h1M403 38.5h1M403 39.5h1M403 40.5h1M403 41.5h1M403 42.5h1M403 43.5h1M403 44.5h1M403 45.5h1M403 46.5h1M403 47.5h1M403 48.5h1M403 49.5h1M403 50.5h1M403 51.5h1M403 52.5h1M403 54.5h1M403 57.5h1M403 58.5h1M403 65.5h1M403 67.5h1M403 69.5h1M403 70.5h1M403 72.5h1M403 74.5h1M403 77.5h1M403 78.5h1M403 79.5h1M403 82.5h1M403 86.5h1M403 91.5h1M403 93.5h1M403 94.5h1M403 97.5h1M403 98.5h1M403 99.5h1M403 100.5h1M403 102.5h1M403 104.5h1M403 114.5h1M404 21.5h1M404 22.5h1M404 23.5h1M404 24.5h1M404 25.5h1M404 26.5h1M404 27.5h1M404 28.5h1M404 29.5h1M404 30.5h1M404 31.5h1M404 32.5h1M404 33.5h1M404 34.5h1M404 35.5h1M404 36.5h1M404 37.5h1M404 38.5h1M404 40.5h1M404 41.5h1M404 42.5h1M404 43.5h1M404 44.5h1M404 45.5h1M404 46.5h1M404 47.5h1M404 48.5h1M404 49.5h1M404 50.5h1M404 51.5h1M404 53.5h1M404 54.5h1M404 58.5h1M404 59.5h1M404 61.5h1M404 68.5h1M404 70.5h1M404 76.5h1M404 77.5h1M404 78.5h1M404 84.5h1M404 85.5h1M404 87.5h1M404 88.5h1M404 90.5h1M404 94.5h1M404 98.5h1M404 104.5h1M404 106.5h1M404 109.5h1M405 19.5h1M405 22.5h1M405 23.5h1M405 24.5h1M405 25.5h1M405 26.5h1M405 27.5h1M405 28.5h1M405 29.5h1M405 30.5h1M405 31.5h1M405 32.5h1M405 33.5h1M405 34.5h1M405 35.5h1M405 36.5h1M405 37.5h1M405 38.5h1M405 39.5h1M405 40.5h1M405 41.5h1M405 42.5h1M405 43.5h1M405 44.5h1M405 45.5h1M405 46.5h1M405 47.5h1M405 48.5h1M405 59.5h1M405 60.5h1M405 61.5h1M405 64.5h1M405 67.5h1M405 68.5h1M405 72.5h1M405 73.5h1M405 75.5h1M405 81.5h1M405 83.5h1M405 84.5h1M405 90.5h1M405 92.5h1M405 95.5h1M405 98.5h1M405 111.5h1M406 19.5h1M406 22.5h1M406 24.5h1M406 25.5h1M406 26.5h1M406 28.5h1M406 29.5h1M406 30.5h1M406 31.5h1M406 32.5h1M406 33.5h1M406 34.5h1M406 35.5h1M406 36.5h1M406 37.5h1M406 38.5h1M406 39.5h1M406 40.5h1M406 41.5h1M406 42.5h1M406 43.5h1M406 44.5h1M406 45.5h1M406 47.5h1M406 48.5h1M406 53.5h1M406 58.5h1M406 63.5h1M406 64.5h1M406 65.5h1M406 66.5h1M406 67.5h1M406 71.5h1M406 73.5h1M406 74.5h1M406 75.5h1M406 89.5h1M406 91.5h1M406 92.5h1M406 95.5h1M407 21.5h1M407 22.5h1M407 23.5h1M407 24.5h1M407 25.5h1M407 26.5h1M407 27.5h1M407 28.5h1M407 29.5h1M407 30.5h1M407 31.5h1M407 32.5h1M407 33.5h1M407 34.5h1M407 35.5h1M407 36.5h1M407 37.5h1M407 38.5h1M407 39.5h1M407 40.5h1M407 41.5h1M407 43.5h1M407 44.5h1M407 45.5h1M407 46.5h1M407 47.5h1M407 55.5h1M407 58.5h1M407 60.5h1M407 82.5h1M407 85.5h1M407 88.5h1M407 94.5h1M407 95.5h1M407 96.5h1M407 102.5h1M408 20.5h1M408 22.5h1M408 23.5h1M408 24.5h1M408 25.5h1M408 26.5h1M408 27.5h1M408 28.5h1M408 29.5h1M408 30.5h1M408 31.5h1M408 32.5h1M408 33.5h1M408 34.5h1M408 35.5h1M408 37.5h1M408 38.5h1M408 39.5h1M408 40.5h1M408 41.5h1M408 42.5h1M408 43.5h1M408 44.5h1M408 45.5h1M408 46.5h1M408 50.5h1M408 59.5h1M408 66.5h1M408 81.5h1M408 89.5h1M408 97.5h1M408 98.5h1M409 22.5h1M409 23.5h1M409 24.5h1M409 25.5h1M409 26.5h1M409 27.5h1M409 28.5h1M409 29.5h1M409 30.5h1M409 31.5h1M409 32.5h1M409 33.5h1M409 34.5h1M409 35.5h1M409 36.5h1M409 37.5h1M409 38.5h1M409 40.5h1M409 41.5h1M409 43.5h1M409 46.5h1M409 54.5h1M409 74.5h1M409 79.5h1M409 87.5h1M409 97.5h1M410 20.5h1M410 23.5h1M410 24.5h1M410 25.5h1M410 26.5h1M410 27.5h1M410 28.5h1M410 29.5h1M410 30.5h1M410 31.5h1M410 32.5h1M410 33.5h1M410 34.5h1M410 35.5h1M410 36.5h1M410 38.5h1M410 39.5h1M410 42.5h1M410 54.5h1M410 56.5h1M410 60.5h1M410 63.5h1M410 64.5h1M410 84.5h1M410 89.5h1M411 19.5h1M411 21.5h1M411 23.5h1M411 24.5h1M411 25.5h1M411 26.5h1M411 27.5h1M411 28.5h1M411 29.5h1M411 30.5h1M411 31.5h1M411 33.5h1M411 35.5h1M411 36.5h1M411 37.5h1M411 43.5h1M411 52.5h1M411 54.5h1M411 88.5h1M412 21.5h1M412 22.5h1M412 23.5h1M412 24.5h1M412 25.5h1M412 26.5h1M412 27.5h1M412 29.5h1M412 30.5h1M412 80.5h1M413 21.5h1M413 22.5h1M413 26.5h1M413 30.5h1M413 36.5h1M414 24.5h1M415 25.5h1M416 48.5h1M417 68.5h1M418 54.5h1M419 39.5h1M422 40.5h1M429 25.5h1M430 34.5h1M434 30.5h1" stroke="#000" stroke-width="1" fill="none"/>
<rect x="318.7" y="4.5" width="119.8" height="113.5" fill="none" stroke="#000" stroke-width="1.7"/>
<path d="M318.7 61.8H438.5M367.2 4.5V118" stroke="#000" stroke-width="1.5" fill="none"/>
<path d="M319.6 118v2.8M315.9 4.5h2.8M349.1 118v2.8M315.9 32.5h2.8M378.5 118v2.8M315.9 60.5h2.8M408 118v2.8M315.9 88.5h2.8M437.4 118v2.8M315.9 116.5h2.8" stroke="#000" stroke-width="1.4" fill="none"/>
<text x="320.8" y="131.1" font-size="8.1" text-anchor="middle" textLength="9.1" lengthAdjust="spacingAndGlyphs">10</text>
<text x="326.2" y="127.2" font-size="4" text-anchor="start">0</text>
<text x="312.8" y="119.1" font-size="8.1" text-anchor="end" textLength="9.4" lengthAdjust="spacingAndGlyphs">10</text>
<text x="313.8" y="115.5" font-size="4" text-anchor="start">0</text>
<text x="350.2" y="131.1" font-size="8.1" text-anchor="middle" textLength="9.1" lengthAdjust="spacingAndGlyphs">10</text>
<text x="355.7" y="127.2" font-size="4" text-anchor="start">1</text>
<text x="312.8" y="91.1" font-size="8.1" text-anchor="end" textLength="9.4" lengthAdjust="spacingAndGlyphs">10</text>
<text x="313.8" y="87.5" font-size="4" text-anchor="start">1</text>
<text x="379.7" y="131.1" font-size="8.1" text-anchor="middle" textLength="9.1" lengthAdjust="spacingAndGlyphs">10</text>
<text x="385.1" y="127.2" font-size="4" text-anchor="start">2</text>
<text x="312.8" y="63.1" font-size="8.1" text-anchor="end" textLength="9.4" lengthAdjust="spacingAndGlyphs">10</text>
<text x="313.8" y="59.5" font-size="4" text-anchor="start">2</text>
<text x="409.2" y="131.1" font-size="8.1" text-anchor="middle" textLength="9.1" lengthAdjust="spacingAndGlyphs">10</text>
<text x="414.6" y="127.2" font-size="4" text-anchor="start">3</text>
<text x="312.8" y="35.1" font-size="8.1" text-anchor="end" textLength="9.4" lengthAdjust="spacingAndGlyphs">10</text>
<text x="313.8" y="31.5" font-size="4" text-anchor="start">3</text>
<text x="438.6" y="131.1" font-size="8.1" text-anchor="middle" textLength="9.1" lengthAdjust="spacingAndGlyphs">10</text>
<text x="444" y="127.2" font-size="4" text-anchor="start">4</text>
<text x="312.8" y="8" font-size="8.1" text-anchor="end" textLength="9.4" lengthAdjust="spacingAndGlyphs">10</text>
<text x="313.8" y="4.4" font-size="4" text-anchor="start">4</text>
<text x="378.5" y="144.6" font-size="14.6" text-anchor="middle" textLength="31" lengthAdjust="spacingAndGlyphs" class="h1">CD8</text>
<text transform="translate(299.8 66.6) rotate(-90)" x="0" y="0" font-size="16.3" text-anchor="middle" textLength="31.6" lengthAdjust="spacingAndGlyphs" class="h1">CD4</text>
<path d="M321 193.5h1M322 197.5h1M323 208.5h1M324 196.5h1M325 195.5h1M325 204.5h1M326 203.5h1M326 205.5h1M327 200.5h1M327 202.5h1M327 205.5h1M328 199.5h1M328 204.5h1M328 206.5h1M329 203.5h1M329 204.5h1M329 205.5h1M329 212.5h1M330 198.5h1M330 201.5h1M330 202.5h1M330 206.5h1M330 208.5h1M331 198.5h1M331 199.5h1M331 200.5h1M331 201.5h1M331 202.5h1M331 203.5h1M331 205.5h1M331 264.5h1M332 198.5h1M332 199.5h1M332 201.5h1M332 204.5h1M332 205.5h1M332 206.5h1M332 207.5h1M332 208.5h1M332 218.5h1M333 196.5h1M333 198.5h1M333 199.5h1M333 200.5h1M333 201.5h1M333 202.5h1M333 204.5h1M333 205.5h1M333 207.5h1M333 208.5h1M333 209.5h1M334 196.5h1M334 197.5h1M334 201.5h1M334 202.5h1M334 203.5h1M334 204.5h1M334 205.5h1M334 208.5h1M334 210.5h1M334 214.5h1M334 219.5h1M334 275.5h1M335 196.5h1M335 197.5h1M335 198.5h1M335 199.5h1M335 200.5h1M335 202.5h1M335 203.5h1M335 204.5h1M335 205.5h1M335 206.5h1M335 207.5h1M335 210.5h1M335 211.5h1M335 212.5h1M336 196.5h1M336 197.5h1M336 198.5h1M336 200.5h1M336 201.5h1M336 202.5h1M336 203.5h1M336 204.5h1M336 205.5h1M336 206.5h1M336 207.5h1M336 209.5h1M336 210.5h1M336 220.5h1M336 252.5h1M336 274.5h1M337 195.5h1M337 197.5h1M337 199.5h1M337 200.5h1M337 201.5h1M337 202.5h1M337 203.5h1M337 204.5h1M337 205.5h1M337 206.5h1M337 207.5h1M337 208.5h1M337 211.5h1M337 213.5h1M337 214.5h1M337 252.5h1M338 194.5h1M338 198.5h1M338 199.5h1M338 200.5h1M338 201.5h1M338 202.5h1M338 203.5h1M338 204.5h1M338 205.5h1M338 206.5h1M338 207.5h1M338 208.5h1M338 209.5h1M338 210.5h1M338 212.5h1M338 218.5h1M338 225.5h1M338 226.5h1M338 263.5h1M338 267.5h1M339 195.5h1M339 196.5h1M339 197.5h1M339 198.5h1M339 199.5h1M339 200.5h1M339 201.5h1M339 202.5h1M339 203.5h1M339 204.5h1M339 205.5h1M339 206.5h1M339 207.5h1M339 208.5h1M339 209.5h1M339 213.5h1M339 214.5h1M339 253.5h1M339 260.5h1M339 262.5h1M339 266.5h1M339 267.5h1M339 268.5h1M339 272.5h1M340 196.5h1M340 197.5h1M340 198.5h1M340 199.5h1M340 200.5h1M340 201.5h1M340 202.5h1M340 203.5h1M340 204.5h1M340 205.5h1M340 206.5h1M340 207.5h1M340 209.5h1M340 219.5h1M340 225.5h1M341 195.5h1M341 196.5h1M341 197.5h1M341 198.5h1M341 199.5h1M341 200.5h1M341 201.5h1M341 202.5h1M341 203.5h1M341 204.5h1M341 205.5h1M341 206.5h1M341 207.5h1M341 208.5h1M341 209.5h1M341 210.5h1M341 211.5h1M341 213.5h1M341 214.5h1M341 217.5h1M341 218.5h1M341 219.5h1M341 221.5h1M341 223.5h1M341 250.5h1M341 260.5h1M342 194.5h1M342 195.5h1M342 196.5h1M342 197.5h1M342 198.5h1M342 199.5h1M342 200.5h1M342 201.5h1M342 202.5h1M342 203.5h1M342 204.5h1M342 205.5h1M342 206.5h1M342 207.5h1M342 209.5h1M342 210.5h1M342 211.5h1M342 214.5h1M342 217.5h1M342 236.5h1M342 248.5h1M342 258.5h1M342 260.5h1M343 193.5h1M343 194.5h1M343 196.5h1M343 197.5h1M343 198.5h1M343 199.5h1M343 200.5h1M343 201.5h1M343 202.5h1M343 203.5h1M343 204.5h1M343 205.5h1M343 206.5h1M343 207.5h1M343 210.5h1M343 211.5h1M343 212.5h1M343 215.5h1M343 216.5h1M343 217.5h1M343 219.5h1M343 221.5h1M343 222.5h1M343 224.5h1M343 225.5h1M343 227.5h1M343 243.5h1M343 244.5h1M343 250.5h1M343 259.5h1M343 261.5h1M343 266.5h1M343 267.5h1M343 280.5h1M344 194.5h1M344 195.5h1M344 196.5h1M344 198.5h1M344 199.5h1M344 200.5h1M344 201.5h1M344 202.5h1M344 203.5h1M344 204.5h1M344 205.5h1M344 206.5h1M344 207.5h1M344 208.5h1M344 209.5h1M344 211.5h1M344 212.5h1M344 215.5h1M344 216.5h1M344 217.5h1M344 219.5h1M344 220.5h1M344 257.5h1M344 260.5h1M345 195.5h1M345 196.5h1M345 197.5h1M345 198.5h1M345 199.5h1M345 200.5h1M345 201.5h1M345 202.5h1M345 203.5h1M345 204.5h1M345 205.5h1M345 206.5h1M345 207.5h1M345 208.5h1M345 209.5h1M345 210.5h1M345 213.5h1M345 214.5h1M345 217.5h1M345 219.5h1M345 220.5h1M345 225.5h1M345 230.5h1M345 239.5h1M345 250.5h1M345 252.5h1M345 256.5h1M345 258.5h1M345 260.5h1M345 263.5h1M345 264.5h1M345 268.5h1M346 196.5h1M346 197.5h1M346 198.5h1M346 199.5h1M346 200.5h1M346 201.5h1M346 202.5h1M346 203.5h1M346 204.5h1M346 205.5h1M346 206.5h1M346 207.5h1M346 208.5h1M346 209.5h1M346 210.5h1M346 211.5h1M346 213.5h1M346 214.5h1M346 215.5h1M346 218.5h1M346 220.5h1M346 224.5h1M346 233.5h1M346 251.5h1M346 258.5h1M346 265.5h1M346 268.5h1M347 194.5h1M347 196.5h1M347 197.5h1M347 198.5h1M347 199.5h1M347 200.5h1M347 201.5h1M347 202.5h1M347 203.5h1M347 204.5h1M347 205.5h1M347 206.5h1M347 207.5h1M347 208.5h1M347 210.5h1M347 211.5h1M347 212.5h1M347 213.5h1M347 214.5h1M347 215.5h1M347 217.5h1M347 219.5h1M347 220.5h1M347 224.5h1M347 229.5h1M347 247.5h1M347 248.5h1M347 249.5h1M347 251.5h1M347 255.5h1M347 256.5h1M347 257.5h1M347 261.5h1M347 273.5h1M348 192.5h1M348 193.5h1M348 194.5h1M348 195.5h1M348 196.5h1M348 197.5h1M348 198.5h1M348 199.5h1M348 200.5h1M348 201.5h1M348 202.5h1M348 203.5h1M348 204.5h1M348 205.5h1M348 206.5h1M348 207.5h1M348 208.5h1M348 209.5h1M348 211.5h1M348 212.5h1M348 213.5h1M348 215.5h1M348 216.5h1M348 218.5h1M348 219.5h1M348 220.5h1M348 236.5h1M348 238.5h1M348 243.5h1M348 245.5h1M348 258.5h1M348 263.5h1M349 194.5h1M349 195.5h1M349 197.5h1M349 198.5h1M349 199.5h1M349 200.5h1M349 201.5h1M349 202.5h1M349 203.5h1M349 204.5h1M349 205.5h1M349 206.5h1M349 207.5h1M349 208.5h1M349 209.5h1M349 210.5h1M349 211.5h1M349 214.5h1M349 215.5h1M349 216.5h1M349 220.5h1M349 223.5h1M349 224.5h1M349 225.5h1M349 240.5h1M349 252.5h1M349 257.5h1M349 265.5h1M350 194.5h1M350 195.5h1M350 198.5h1M350 199.5h1M350 200.5h1M350 201.5h1M350 202.5h1M350 203.5h1M350 204.5h1M350 205.5h1M350 206.5h1M350 207.5h1M350 208.5h1M350 209.5h1M350 210.5h1M350 211.5h1M350 212.5h1M350 214.5h1M350 216.5h1M350 217.5h1M350 220.5h1M350 236.5h1M350 237.5h1M350 241.5h1M350 258.5h1M350 264.5h1M351 194.5h1M351 195.5h1M351 196.5h1M351 197.5h1M351 198.5h1M351 199.5h1M351 200.5h1M351 201.5h1M351 202.5h1M351 203.5h1M351 204.5h1M351 205.5h1M351 206.5h1M351 207.5h1M351 208.5h1M351 209.5h1M351 210.5h1M351 211.5h1M351 213.5h1M351 214.5h1M351 215.5h1M351 216.5h1M351 217.5h1M351 218.5h1M351 219.5h1M351 221.5h1M351 222.5h1M351 223.5h1M351 224.5h1M351 248.5h1M351 251.5h1M351 253.5h1M352 194.5h1M352 196.5h1M352 197.5h1M352 198.5h1M352 199.5h1M352 200.5h1M352 201.5h1M352 202.5h1M352 203.5h1M352 204.5h1M352 205.5h1M352 206.5h1M352 207.5h1M352 208.5h1M352 209.5h1M352 210.5h1M352 211.5h1M352 212.5h1M352 213.5h1M352 215.5h1M352 216.5h1M352 218.5h1M352 219.5h1M352 220.5h1M352 221.5h1M352 222.5h1M352 224.5h1M352 230.5h1M352 236.5h1M352 245.5h1M352 246.5h1M352 253.5h1M352 266.5h1M352 267.5h1M353 193.5h1M353 194.5h1M353 195.5h1M353 197.5h1M353 198.5h1M353 199.5h1M353 200.5h1M353 201.5h1M353 202.5h1M353 203.5h1M353 204.5h1M353 205.5h1M353 206.5h1M353 207.5h1M353 208.5h1M353 209.5h1M353 210.5h1M353 212.5h1M353 214.5h1M353 216.5h1M353 217.5h1M353 218.5h1M353 219.5h1M353 243.5h1M353 244.5h1M353 245.5h1M353 246.5h1M353 250.5h1M353 252.5h1M353 254.5h1M353 258.5h1M353 266.5h1M354 189.5h1M354 193.5h1M354 195.5h1M354 196.5h1M354 197.5h1M354 198.5h1M354 199.5h1M354 200.5h1M354 201.5h1M354 202.5h1M354 203.5h1M354 204.5h1M354 205.5h1M354 206.5h1M354 208.5h1M354 210.5h1M354 211.5h1M354 212.5h1M354 214.5h1M354 215.5h1M354 216.5h1M354 217.5h1M354 219.5h1M354 220.5h1M354 225.5h1M354 235.5h1M354 236.5h1M354 242.5h1M354 248.5h1M355 191.5h1M355 196.5h1M355 197.5h1M355 198.5h1M355 199.5h1M355 200.5h1M355 201.5h1M355 202.5h1M355 203.5h1M355 204.5h1M355 205.5h1M355 206.5h1M355 207.5h1M355 209.5h1M355 211.5h1M355 212.5h1M355 214.5h1M355 215.5h1M355 216.5h1M355 217.5h1M355 218.5h1M355 221.5h1M355 223.5h1M355 224.5h1M355 233.5h1M355 242.5h1M355 250.5h1M355 255.5h1M355 264.5h1M356 189.5h1M356 194.5h1M356 195.5h1M356 196.5h1M356 198.5h1M356 199.5h1M356 200.5h1M356 201.5h1M356 202.5h1M356 203.5h1M356 204.5h1M356 205.5h1M356 206.5h1M356 207.5h1M356 208.5h1M356 209.5h1M356 210.5h1M356 211.5h1M356 212.5h1M356 213.5h1M356 214.5h1M356 215.5h1M356 216.5h1M356 217.5h1M356 219.5h1M356 221.5h1M356 225.5h1M356 233.5h1M356 236.5h1M356 239.5h1M356 242.5h1M356 251.5h1M356 254.5h1M356 258.5h1M357 185.5h1M357 197.5h1M357 198.5h1M357 199.5h1M357 200.5h1M357 201.5h1M357 202.5h1M357 203.5h1M357 204.5h1M357 205.5h1M357 206.5h1M357 207.5h1M357 208.5h1M357 209.5h1M357 210.5h1M357 211.5h1M357 212.5h1M357 213.5h1M357 214.5h1M357 215.5h1M357 217.5h1M357 219.5h1M357 221.5h1M357 233.5h1M357 235.5h1M357 254.5h1M358 197.5h1M358 198.5h1M358 199.5h1M358 200.5h1M358 201.5h1M358 202.5h1M358 203.5h1M358 204.5h1M358 205.5h1M358 206.5h1M358 207.5h1M358 208.5h1M358 209.5h1M358 211.5h1M358 212.5h1M358 213.5h1M358 217.5h1M358 219.5h1M358 220.5h1M358 221.5h1M358 229.5h1M358 231.5h1M358 245.5h1M358 257.5h1M359 189.5h1M359 193.5h1M359 195.5h1M359 196.5h1M359 197.5h1M359 198.5h1M359 199.5h1M359 200.5h1M359 201.5h1M359 202.5h1M359 203.5h1M359 204.5h1M359 205.5h1M359 206.5h1M359 207.5h1M359 208.5h1M359 209.5h1M359 210.5h1M359 211.5h1M359 212.5h1M359 213.5h1M359 214.5h1M359 215.5h1M359 216.5h1M359 218.5h1M359 219.5h1M359 220.5h1M359 221.5h1M359 226.5h1M359 229.5h1M359 233.5h1M359 243.5h1M359 248.5h1M360 194.5h1M360 195.5h1M360 197.5h1M360 198.5h1M360 199.5h1M360 200.5h1M360 201.5h1M360 202.5h1M360 203.5h1M360 204.5h1M360 205.5h1M360 206.5h1M360 207.5h1M360 208.5h1M360 209.5h1M360 210.5h1M360 211.5h1M360 212.5h1M360 213.5h1M360 215.5h1M360 216.5h1M360 220.5h1M360 221.5h1M360 233.5h1M360 239.5h1M361 196.5h1M361 197.5h1M361 198.5h1M361 199.5h1M361 200.5h1M361 201.5h1M361 202.5h1M361 203.5h1M361 204.5h1M361 205.5h1M361 206.5h1M361 207.5h1M361 208.5h1M361 210.5h1M361 211.5h1M361 212.5h1M361 215.5h1M361 216.5h1M361 222.5h1M361 273.5h1M362 196.5h1M362 197.5h1M362 198.5h1M362 199.5h1M362 200.5h1M362 201.5h1M362 202.5h1M362 203.5h1M362 204.5h1M362 205.5h1M362 206.5h1M362 207.5h1M362 208.5h1M362 209.5h1M362 210.5h1M362 211.5h1M362 212.5h1M362 213.5h1M362 214.5h1M362 215.5h1M362 216.5h1M362 217.5h1M362 219.5h1M362 220.5h1M362 222.5h1M362 229.5h1M362 234.5h1M362 239.5h1M362 240.5h1M363 197.5h1M363 198.5h1M363 199.5h1M363 200.5h1M363 201.5h1M363 202.5h1M363 203.5h1M363 205.5h1M363 206.5h1M363 207.5h1M363 208.5h1M363 209.5h1M363 210.5h1M363 211.5h1M363 212.5h1M363 213.5h1M363 214.5h1M363 215.5h1M363 216.5h1M363 218.5h1M363 220.5h1M363 221.5h1M364 195.5h1M364 197.5h1M364 198.5h1M364 199.5h1M364 200.5h1M364 201.5h1M364 202.5h1M364 203.5h1M364 204.5h1M364 205.5h1M364 206.5h1M364 207.5h1M364 208.5h1M364 209.5h1M364 210.5h1M364 211.5h1M364 212.5h1M364 213.5h1M364 214.5h1M364 215.5h1M364 216.5h1M364 217.5h1M364 219.5h1M364 221.5h1M364 222.5h1M364 223.5h1M364 227.5h1M364 228.5h1M365 193.5h1M365 198.5h1M365 200.5h1M365 201.5h1M365 202.5h1M365 203.5h1M365 204.5h1M365 205.5h1M365 206.5h1M365 207.5h1M365 208.5h1M365 209.5h1M365 210.5h1M365 211.5h1M365 213.5h1M365 214.5h1M365 215.5h1M365 216.5h1M365 218.5h1M365 220.5h1M365 221.5h1M365 223.5h1M365 229.5h1M365 245.5h1M366 196.5h1M366 199.5h1M366 200.5h1M366 202.5h1M366 203.5h1M366 205.5h1M366 206.5h1M366 207.5h1M366 208.5h1M366 210.5h1M366 212.5h1M366 214.5h1M366 215.5h1M366 216.5h1M366 218.5h1M366 219.5h1M366 221.5h1M366 222.5h1M366 226.5h1M366 228.5h1M367 196.5h1M367 198.5h1M367 200.5h1M367 202.5h1M367 203.5h1M367 204.5h1M367 205.5h1M367 206.5h1M367 207.5h1M367 208.5h1M367 209.5h1M367 210.5h1M367 211.5h1M367 212.5h1M367 213.5h1M367 214.5h1M367 215.5h1M367 216.5h1M367 217.5h1M367 220.5h1M367 222.5h1M367 223.5h1M367 230.5h1M368 199.5h1M368 200.5h1M368 203.5h1M368 204.5h1M368 206.5h1M368 207.5h1M368 208.5h1M368 209.5h1M368 210.5h1M368 211.5h1M368 212.5h1M368 213.5h1M368 214.5h1M368 215.5h1M368 216.5h1M368 217.5h1M368 218.5h1M368 219.5h1M368 220.5h1M368 221.5h1M368 222.5h1M368 223.5h1M368 224.5h1M368 225.5h1M368 227.5h1M368 228.5h1M368 231.5h1M368 243.5h1M369 197.5h1M369 199.5h1M369 200.5h1M369 201.5h1M369 202.5h1M369 203.5h1M369 204.5h1M369 205.5h1M369 206.5h1M369 208.5h1M369 209.5h1M369 210.5h1M369 211.5h1M369 212.5h1M369 213.5h1M369 214.5h1M369 215.5h1M369 216.5h1M369 217.5h1M369 218.5h1M369 219.5h1M369 220.5h1M369 221.5h1M369 222.5h1M369 224.5h1M369 225.5h1M369 226.5h1M369 227.5h1M369 281.5h1M370 198.5h1M370 201.5h1M370 202.5h1M370 203.5h1M370 204.5h1M370 205.5h1M370 206.5h1M370 207.5h1M370 208.5h1M370 209.5h1M370 211.5h1M370 212.5h1M370 213.5h1M370 214.5h1M370 215.5h1M370 216.5h1M370 217.5h1M370 218.5h1M370 219.5h1M370 220.5h1M370 221.5h1M370 222.5h1M370 224.5h1M370 225.5h1M371 201.5h1M371 203.5h1M371 204.5h1M371 205.5h1M371 206.5h1M371 207.5h1M371 209.5h1M371 210.5h1M371 211.5h1M371 212.5h1M371 213.5h1M371 214.5h1M371 215.5h1M371 216.5h1M371 217.5h1M371 218.5h1M371 219.5h1M371 222.5h1M371 224.5h1M371 225.5h1M371 230.5h1M371 231.5h1M372 198.5h1M372 202.5h1M372 207.5h1M372 208.5h1M372 209.5h1M372 210.5h1M372 211.5h1M372 214.5h1M372 215.5h1M372 216.5h1M372 217.5h1M372 218.5h1M372 220.5h1M372 232.5h1M372 235.5h1M373 194.5h1M373 197.5h1M373 200.5h1M373 203.5h1M373 204.5h1M373 205.5h1M373 206.5h1M373 207.5h1M373 208.5h1M373 209.5h1M373 210.5h1M373 212.5h1M373 213.5h1M373 214.5h1M373 215.5h1M373 216.5h1M373 217.5h1M373 218.5h1M373 219.5h1M373 220.5h1M373 223.5h1M373 224.5h1M373 235.5h1M373 238.5h1M374 199.5h1M374 204.5h1M374 205.5h1M374 206.5h1M374 208.5h1M374 209.5h1M374 210.5h1M374 211.5h1M374 212.5h1M374 213.5h1M374 214.5h1M374 215.5h1M374 216.5h1M374 217.5h1M374 218.5h1M374 219.5h1M374 220.5h1M374 222.5h1M374 223.5h1M374 225.5h1M374 226.5h1M375 194.5h1M375 199.5h1M375 200.5h1M375 202.5h1M375 205.5h1M375 206.5h1M375 207.5h1M375 209.5h1M375 210.5h1M375 211.5h1M375 212.5h1M375 213.5h1M375 214.5h1M375 215.5h1M375 216.5h1M375 217.5h1M375 218.5h1M375 221.5h1M375 222.5h1M375 226.5h1M375 229.5h1M376 198.5h1M376 199.5h1M376 200.5h1M376 202.5h1M376 205.5h1M376 208.5h1M376 209.5h1M376 210.5h1M376 211.5h1M376 212.5h1M376 213.5h1M376 214.5h1M376 215.5h1M376 216.5h1M376 217.5h1M376 218.5h1M376 219.5h1M376 220.5h1M376 221.5h1M376 225.5h1M376 226.5h1M376 233.5h1M376 240.5h1M377 192.5h1M377 198.5h1M377 200.5h1M377 202.5h1M377 204.5h1M377 205.5h1M377 206.5h1M377 207.5h1M377 208.5h1M377 209.5h1M377 210.5h1M377 211.5h1M377 212.5h1M377 214.5h1M377 215.5h1M377 216.5h1M377 217.5h1M377 218.5h1M377 219.5h1M377 220.5h1M377 221.5h1M377 222.5h1M377 224.5h1M377 226.5h1M377 241.5h1M378 198.5h1M378 200.5h1M378 203.5h1M378 204.5h1M378 205.5h1M378 206.5h1M378 207.5h1M378 208.5h1M378 209.5h1M378 210.5h1M378 212.5h1M378 213.5h1M378 214.5h1M378 215.5h1M378 216.5h1M378 217.5h1M378 218.5h1M378 219.5h1M378 220.5h1M378 221.5h1M378 222.5h1M378 224.5h1M378 226.5h1M378 229.5h1M378 237.5h1M379 200.5h1M379 202.5h1M379 203.5h1M379 204.5h1M379 205.5h1M379 206.5h1M379 207.5h1M379 208.5h1M379 209.5h1M379 210.5h1M379 211.5h1M379 212.5h1M379 213.5h1M379 214.5h1M379 215.5h1M379 216.5h1M379 217.5h1M379 218.5h1M379 219.5h1M379 220.5h1M379 221.5h1M379 223.5h1M379 224.5h1M379 225.5h1M379 226.5h1M379 229.5h1M379 231.5h1M379 235.5h1M379 242.5h1M379 247.5h1M379 253.5h1M380 183.5h1M380 201.5h1M380 202.5h1M380 203.5h1M380 204.5h1M380 205.5h1M380 206.5h1M380 207.5h1M380 208.5h1M380 209.5h1M380 210.5h1M380 211.5h1M380 212.5h1M380 213.5h1M380 214.5h1M380 215.5h1M380 216.5h1M380 217.5h1M380 218.5h1M380 219.5h1M380 220.5h1M380 222.5h1M380 223.5h1M380 224.5h1M380 225.5h1M380 230.5h1M380 235.5h1M380 244.5h1M381 198.5h1M381 200.5h1M381 201.5h1M381 202.5h1M381 203.5h1M381 204.5h1M381 205.5h1M381 206.5h1M381 207.5h1M381 208.5h1M381 209.5h1M381 210.5h1M381 211.5h1M381 212.5h1M381 213.5h1M381 214.5h1M381 215.5h1M381 216.5h1M381 217.5h1M381 218.5h1M381 219.5h1M381 220.5h1M381 221.5h1M381 222.5h1M381 223.5h1M381 224.5h1M381 225.5h1M381 228.5h1M381 229.5h1M381 234.5h1M381 236.5h1M381 240.5h1M381 245.5h1M381 262.5h1M382 202.5h1M382 203.5h1M382 204.5h1M382 205.5h1M382 206.5h1M382 207.5h1M382 209.5h1M382 210.5h1M382 211.5h1M382 212.5h1M382 213.5h1M382 214.5h1M382 215.5h1M382 216.5h1M382 217.5h1M382 218.5h1M382 219.5h1M382 220.5h1M382 221.5h1M382 222.5h1M382 223.5h1M382 227.5h1M382 229.5h1M382 234.5h1M382 235.5h1M382 257.5h1M383 196.5h1M383 198.5h1M383 199.5h1M383 200.5h1M383 201.5h1M383 202.5h1M383 203.5h1M383 204.5h1M383 205.5h1M383 206.5h1M383 207.5h1M383 208.5h1M383 209.5h1M383 210.5h1M383 211.5h1M383 212.5h1M383 213.5h1M383 214.5h1M383 215.5h1M383 216.5h1M383 217.5h1M383 218.5h1M383 219.5h1M383 220.5h1M383 221.5h1M383 222.5h1M383 223.5h1M383 224.5h1M383 225.5h1M383 232.5h1M383 233.5h1M383 234.5h1M383 237.5h1M384 196.5h1M384 198.5h1M384 200.5h1M384 201.5h1M384 202.5h1M384 203.5h1M384 204.5h1M384 205.5h1M384 206.5h1M384 207.5h1M384 208.5h1M384 209.5h1M384 210.5h1M384 211.5h1M384 212.5h1M384 213.5h1M384 214.5h1M384 215.5h1M384 216.5h1M384 217.5h1M384 218.5h1M384 219.5h1M384 220.5h1M384 221.5h1M384 222.5h1M384 223.5h1M384 224.5h1M384 225.5h1M384 226.5h1M384 233.5h1M384 236.5h1M384 241.5h1M384 255.5h1M385 198.5h1M385 199.5h1M385 200.5h1M385 201.5h1M385 202.5h1M385 203.5h1M385 204.5h1M385 205.5h1M385 206.5h1M385 207.5h1M385 208.5h1M385 209.5h1M385 210.5h1M385 211.5h1M385 212.5h1M385 213.5h1M385 214.5h1M385 215.5h1M385 216.5h1M385 217.5h1M385 218.5h1M385 219.5h1M385 220.5h1M385 221.5h1M385 222.5h1M385 223.5h1M385 224.5h1M385 225.5h1M385 228.5h1M385 232.5h1M385 237.5h1M385 243.5h1M385 246.5h1M385 261.5h1M386 197.5h1M386 199.5h1M386 200.5h1M386 201.5h1M386 202.5h1M386 203.5h1M386 204.5h1M386 205.5h1M386 206.5h1M386 207.5h1M386 208.5h1M386 209.5h1M386 210.5h1M386 211.5h1M386 212.5h1M386 213.5h1M386 214.5h1M386 215.5h1M386 216.5h1M386 217.5h1M386 218.5h1M386 219.5h1M386 220.5h1M386 221.5h1M386 222.5h1M386 223.5h1M386 225.5h1M386 227.5h1M386 229.5h1M386 231.5h1M386 240.5h1M386 243.5h1M386 245.5h1M386 252.5h1M386 256.5h1M386 257.5h1M386 262.5h1M386 265.5h1M387 196.5h1M387 197.5h1M387 198.5h1M387 199.5h1M387 200.5h1M387 201.5h1M387 202.5h1M387 203.5h1M387 204.5h1M387 205.5h1M387 206.5h1M387 207.5h1M387 208.5h1M387 209.5h1M387 210.5h1M387 211.5h1M387 212.5h1M387 214.5h1M387 215.5h1M387 216.5h1M387 217.5h1M387 218.5h1M387 219.5h1M387 220.5h1M387 221.5h1M387 222.5h1M387 224.5h1M387 227.5h1M387 230.5h1M387 232.5h1M387 233.5h1M387 236.5h1M387 245.5h1M387 252.5h1M387 256.5h1M388 194.5h1M388 197.5h1M388 198.5h1M388 200.5h1M388 201.5h1M388 202.5h1M388 203.5h1M388 204.5h1M388 205.5h1M388 206.5h1M388 207.5h1M388 208.5h1M388 209.5h1M388 210.5h1M388 211.5h1M388 212.5h1M388 213.5h1M388 214.5h1M388 215.5h1M388 217.5h1M388 218.5h1M388 219.5h1M388 220.5h1M388 221.5h1M388 222.5h1M388 224.5h1M388 226.5h1M388 227.5h1M388 238.5h1M388 240.5h1M388 245.5h1M388 256.5h1M388 258.5h1M388 259.5h1M389 196.5h1M389 197.5h1M389 198.5h1M389 199.5h1M389 200.5h1M389 201.5h1M389 202.5h1M389 203.5h1M389 204.5h1M389 205.5h1M389 207.5h1M389 208.5h1M389 210.5h1M389 211.5h1M389 213.5h1M389 214.5h1M389 215.5h1M389 216.5h1M389 217.5h1M389 218.5h1M389 219.5h1M389 220.5h1M389 221.5h1M389 223.5h1M389 225.5h1M389 227.5h1M389 231.5h1M389 235.5h1M389 252.5h1M389 253.5h1M389 256.5h1M389 262.5h1M390 195.5h1M390 196.5h1M390 198.5h1M390 199.5h1M390 200.5h1M390 201.5h1M390 202.5h1M390 203.5h1M390 204.5h1M390 205.5h1M390 206.5h1M390 207.5h1M390 208.5h1M390 209.5h1M390 210.5h1M390 211.5h1M390 212.5h1M390 213.5h1M390 214.5h1M390 215.5h1M390 216.5h1M390 217.5h1M390 218.5h1M390 219.5h1M390 220.5h1M390 221.5h1M390 222.5h1M390 224.5h1M390 225.5h1M390 232.5h1M390 240.5h1M390 242.5h1M390 243.5h1M390 251.5h1M390 258.5h1M390 263.5h1M390 267.5h1M391 193.5h1M391 195.5h1M391 196.5h1M391 197.5h1M391 198.5h1M391 199.5h1M391 200.5h1M391 201.5h1M391 202.5h1M391 203.5h1M391 204.5h1M391 205.5h1M391 206.5h1M391 207.5h1M391 208.5h1M391 209.5h1M391 210.5h1M391 211.5h1M391 212.5h1M391 213.5h1M391 214.5h1M391 215.5h1M391 216.5h1M391 217.5h1M391 218.5h1M391 219.5h1M391 220.5h1M391 223.5h1M391 224.5h1M391 225.5h1M391 226.5h1M391 231.5h1M391 232.5h1M391 234.5h1M391 237.5h1M391 241.5h1M391 246.5h1M391 247.5h1M391 254.5h1M391 257.5h1M391 269.5h1M392 194.5h1M392 196.5h1M392 197.5h1M392 198.5h1M392 199.5h1M392 200.5h1M392 201.5h1M392 202.5h1M392 203.5h1M392 204.5h1M392 205.5h1M392 206.5h1M392 207.5h1M392 208.5h1M392 209.5h1M392 210.5h1M392 211.5h1M392 212.5h1M392 213.5h1M392 214.5h1M392 215.5h1M392 216.5h1M392 217.5h1M392 218.5h1M392 219.5h1M392 220.5h1M392 221.5h1M392 222.5h1M392 223.5h1M392 224.5h1M392 225.5h1M392 229.5h1M392 233.5h1M392 234.5h1M392 237.5h1M392 239.5h1M392 241.5h1M392 246.5h1M392 250.5h1M392 259.5h1M392 261.5h1M392 268.5h1M393 193.5h1M393 194.5h1M393 195.5h1M393 196.5h1M393 197.5h1M393 198.5h1M393 199.5h1M393 200.5h1M393 201.5h1M393 202.5h1M393 203.5h1M393 204.5h1M393 205.5h1M393 206.5h1M393 207.5h1M393 208.5h1M393 209.5h1M393 210.5h1M393 211.5h1M393 212.5h1M393 213.5h1M393 214.5h1M393 215.5h1M393 216.5h1M393 217.5h1M393 219.5h1M393 220.5h1M393 221.5h1M393 222.5h1M393 223.5h1M393 226.5h1M393 228.5h1M393 229.5h1M393 236.5h1M393 238.5h1M393 242.5h1M393 254.5h1M393 265.5h1M394 178.5h1M394 192.5h1M394 193.5h1M394 194.5h1M394 196.5h1M394 197.5h1M394 198.5h1M394 199.5h1M394 200.5h1M394 201.5h1M394 202.5h1M394 203.5h1M394 204.5h1M394 205.5h1M394 206.5h1M394 207.5h1M394 208.5h1M394 209.5h1M394 210.5h1M394 211.5h1M394 212.5h1M394 213.5h1M394 214.5h1M394 215.5h1M394 216.5h1M394 217.5h1M394 218.5h1M394 219.5h1M394 220.5h1M394 221.5h1M394 222.5h1M394 223.5h1M394 224.5h1M394 230.5h1M394 235.5h1M394 239.5h1M394 240.5h1M394 258.5h1M394 272.5h1M395 192.5h1M395 194.5h1M395 195.5h1M395 196.5h1M395 197.5h1M395 198.5h1M395 199.5h1M395 200.5h1M395 201.5h1M395 202.5h1M395 203.5h1M395 204.5h1M395 205.5h1M395 206.5h1M395 207.5h1M395 208.5h1M395 209.5h1M395 210.5h1M395 211.5h1M395 212.5h1M395 213.5h1M395 214.5h1M395 215.5h1M395 216.5h1M395 217.5h1M395 218.5h1M395 219.5h1M395 220.5h1M395 221.5h1M395 222.5h1M395 224.5h1M395 225.5h1M395 226.5h1M395 229.5h1M395 231.5h1M395 234.5h1M395 235.5h1M395 241.5h1M395 247.5h1M396 193.5h1M396 195.5h1M396 196.5h1M396 197.5h1M396 198.5h1M396 199.5h1M396 200.5h1M396 201.5h1M396 202.5h1M396 203.5h1M396 204.5h1M396 205.5h1M396 206.5h1M396 207.5h1M396 208.5h1M396 209.5h1M396 210.5h1M396 211.5h1M396 212.5h1M396 213.5h1M396 214.5h1M396 215.5h1M396 216.5h1M396 217.5h1M396 218.5h1M396 219.5h1M396 220.5h1M396 221.5h1M396 222.5h1M396 223.5h1M396 224.5h1M396 225.5h1M396 227.5h1M396 228.5h1M396 229.5h1M396 230.5h1M396 236.5h1M396 241.5h1M396 245.5h1M396 252.5h1M396 258.5h1M396 261.5h1M396 270.5h1M397 193.5h1M397 195.5h1M397 196.5h1M397 197.5h1M397 198.5h1M397 199.5h1M397 200.5h1M397 201.5h1M397 202.5h1M397 203.5h1M397 204.5h1M397 205.5h1M397 206.5h1M397 207.5h1M397 208.5h1M397 209.5h1M397 210.5h1M397 211.5h1M397 212.5h1M397 213.5h1M397 214.5h1M397 215.5h1M397 216.5h1M397 217.5h1M397 218.5h1M397 219.5h1M397 220.5h1M397 221.5h1M397 222.5h1M397 226.5h1M397 227.5h1M397 229.5h1M397 240.5h1M397 255.5h1M397 261.5h1M398 174.5h1M398 192.5h1M398 193.5h1M398 194.5h1M398 195.5h1M398 196.5h1M398 197.5h1M398 198.5h1M398 199.5h1M398 200.5h1M398 201.5h1M398 202.5h1M398 203.5h1M398 204.5h1M398 205.5h1M398 206.5h1M398 207.5h1M398 208.5h1M398 209.5h1M398 210.5h1M398 211.5h1M398 212.5h1M398 213.5h1M398 214.5h1M398 215.5h1M398 216.5h1M398 217.5h1M398 218.5h1M398 219.5h1M398 220.5h1M398 221.5h1M398 222.5h1M398 223.5h1M398 224.5h1M398 228.5h1M398 234.5h1M398 254.5h1M398 255.5h1M399 194.5h1M399 195.5h1M399 196.5h1M399 197.5h1M399 198.5h1M399 199.5h1M399 200.5h1M399 202.5h1M399 203.5h1M399 204.5h1M399 205.5h1M399 206.5h1M399 207.5h1M399 208.5h1M399 209.5h1M399 210.5h1M399 211.5h1M399 212.5h1M399 213.5h1M399 214.5h1M399 215.5h1M399 216.5h1M399 217.5h1M399 218.5h1M399 219.5h1M399 220.5h1M399 221.5h1M399 222.5h1M399 224.5h1M399 225.5h1M399 226.5h1M399 233.5h1M399 234.5h1M399 254.5h1M400 188.5h1M400 191.5h1M400 192.5h1M400 194.5h1M400 195.5h1M400 196.5h1M400 198.5h1M400 199.5h1M400 200.5h1M400 201.5h1M400 202.5h1M400 203.5h1M400 204.5h1M400 205.5h1M400 206.5h1M400 207.5h1M400 208.5h1M400 209.5h1M400 210.5h1M400 211.5h1M400 212.5h1M400 213.5h1M400 214.5h1M400 215.5h1M400 216.5h1M400 217.5h1M400 218.5h1M400 219.5h1M400 220.5h1M400 221.5h1M400 222.5h1M400 225.5h1M400 229.5h1M400 240.5h1M401 190.5h1M401 192.5h1M401 193.5h1M401 194.5h1M401 195.5h1M401 197.5h1M401 198.5h1M401 199.5h1M401 200.5h1M401 201.5h1M401 202.5h1M401 203.5h1M401 204.5h1M401 205.5h1M401 206.5h1M401 208.5h1M401 209.5h1M401 210.5h1M401 211.5h1M401 212.5h1M401 213.5h1M401 214.5h1M401 215.5h1M401 216.5h1M401 217.5h1M401 218.5h1M401 222.5h1M401 223.5h1M401 234.5h1M401 248.5h1M402 188.5h1M402 191.5h1M402 192.5h1M402 193.5h1M402 194.5h1M402 195.5h1M402 196.5h1M402 197.5h1M402 198.5h1M402 199.5h1M402 200.5h1M402 201.5h1M402 202.5h1M402 203.5h1M402 204.5h1M402 205.5h1M402 206.5h1M402 207.5h1M402 208.5h1M402 209.5h1M402 210.5h1M402 211.5h1M402 212.5h1M402 213.5h1M402 214.5h1M402 215.5h1M402 216.5h1M402 217.5h1M402 218.5h1M402 219.5h1M402 226.5h1M402 232.5h1M402 233.5h1M402 239.5h1M402 255.5h1M403 190.5h1M403 192.5h1M403 193.5h1M403 194.5h1M403 195.5h1M403 196.5h1M403 197.5h1M403 198.5h1M403 199.5h1M403 200.5h1M403 201.5h1M403 202.5h1M403 203.5h1M403 204.5h1M403 205.5h1M403 206.5h1M403 207.5h1M403 208.5h1M403 209.5h1M403 210.5h1M403 211.5h1M403 212.5h1M403 213.5h1M403 214.5h1M403 215.5h1M403 216.5h1M403 217.5h1M403 218.5h1M403 221.5h1M403 228.5h1M403 237.5h1M403 241.5h1M404 190.5h1M404 192.5h1M404 193.5h1M404 194.5h1M404 195.5h1M404 196.5h1M404 197.5h1M404 198.5h1M404 199.5h1M404 200.5h1M404 201.5h1M404 202.5h1M404 203.5h1M404 204.5h1M404 205.5h1M404 206.5h1M404 207.5h1M404 208.5h1M404 209.5h1M404 210.5h1M404 211.5h1M404 212.5h1M404 213.5h1M404 214.5h1M404 215.5h1M404 216.5h1M404 217.5h1M404 218.5h1M404 219.5h1M404 223.5h1M404 224.5h1M404 226.5h1M404 234.5h1M404 265.5h1M405 187.5h1M405 191.5h1M405 192.5h1M405 193.5h1M405 194.5h1M405 196.5h1M405 197.5h1M405 198.5h1M405 199.5h1M405 200.5h1M405 201.5h1M405 202.5h1M405 203.5h1M405 204.5h1M405 205.5h1M405 206.5h1M405 207.5h1M405 208.5h1M405 209.5h1M405 210.5h1M405 211.5h1M405 212.5h1M405 213.5h1M405 214.5h1M405 215.5h1M405 216.5h1M405 220.5h1M405 224.5h1M405 227.5h1M405 228.5h1M406 187.5h1M406 189.5h1M406 190.5h1M406 192.5h1M406 193.5h1M406 194.5h1M406 195.5h1M406 196.5h1M406 197.5h1M406 198.5h1M406 199.5h1M406 200.5h1M406 201.5h1M406 202.5h1M406 203.5h1M406 204.5h1M406 205.5h1M406 206.5h1M406 207.5h1M406 208.5h1M406 209.5h1M406 210.5h1M406 211.5h1M406 212.5h1M406 213.5h1M406 214.5h1M406 216.5h1M406 218.5h1M406 220.5h1M406 221.5h1M407 188.5h1M407 189.5h1M407 190.5h1M407 191.5h1M407 192.5h1M407 194.5h1M407 196.5h1M407 197.5h1M407 198.5h1M407 199.5h1M407 200.5h1M407 201.5h1M407 202.5h1M407 203.5h1M407 204.5h1M407 205.5h1M407 206.5h1M407 207.5h1M407 208.5h1M407 209.5h1M407 210.5h1M407 211.5h1M407 212.5h1M407 213.5h1M407 214.5h1M407 215.5h1M407 217.5h1M407 225.5h1M407 240.5h1M408 191.5h1M408 192.5h1M408 193.5h1M408 194.5h1M408 195.5h1M408 196.5h1M408 197.5h1M408 198.5h1M408 199.5h1M408 200.5h1M408 201.5h1M408 202.5h1M408 203.5h1M408 204.5h1M408 205.5h1M408 206.5h1M408 207.5h1M408 208.5h1M408 209.5h1M408 210.5h1M408 211.5h1M408 212.5h1M408 213.5h1M408 214.5h1M408 215.5h1M408 217.5h1M408 221.5h1M408 225.5h1M409 190.5h1M409 193.5h1M409 194.5h1M409 195.5h1M409 196.5h1M409 197.5h1M409 198.5h1M409 199.5h1M409 200.5h1M409 201.5h1M409 202.5h1M409 203.5h1M409 204.5h1M409 205.5h1M409 206.5h1M409 207.5h1M409 208.5h1M409 209.5h1M409 210.5h1M409 211.5h1M409 212.5h1M409 213.5h1M409 215.5h1M409 216.5h1M409 218.5h1M409 241.5h1M410 189.5h1M410 190.5h1M410 191.5h1M410 192.5h1M410 193.5h1M410 194.5h1M410 195.5h1M410 196.5h1M410 197.5h1M410 198.5h1M410 199.5h1M410 200.5h1M410 201.5h1M410 202.5h1M410 203.5h1M410 204.5h1M410 205.5h1M410 206.5h1M410 207.5h1M410 209.5h1M410 210.5h1M410 211.5h1M410 212.5h1M410 213.5h1M410 214.5h1M410 218.5h1M410 240.5h1M410 261.5h1M411 191.5h1M411 192.5h1M411 193.5h1M411 194.5h1M411 195.5h1M411 196.5h1M411 197.5h1M411 198.5h1M411 199.5h1M411 200.5h1M411 201.5h1M411 203.5h1M411 204.5h1M411 205.5h1M411 206.5h1M411 207.5h1M411 208.5h1M411 209.5h1M411 210.5h1M411 211.5h1M411 212.5h1M411 226.5h1M412 190.5h1M412 193.5h1M412 194.5h1M412 195.5h1M412 196.5h1M412 197.5h1M412 198.5h1M412 200.5h1M412 201.5h1M412 202.5h1M412 203.5h1M412 204.5h1M412 205.5h1M412 206.5h1M412 207.5h1M412 209.5h1M412 210.5h1M412 211.5h1M412 213.5h1M412 215.5h1M412 224.5h1M412 235.5h1M413 191.5h1M413 193.5h1M413 194.5h1M413 196.5h1M413 197.5h1M413 199.5h1M413 200.5h1M413 203.5h1M413 204.5h1M413 206.5h1M413 207.5h1M413 209.5h1M413 211.5h1M414 191.5h1M414 193.5h1M414 195.5h1M414 196.5h1M414 198.5h1M414 200.5h1M414 201.5h1M414 202.5h1M414 203.5h1M414 204.5h1M414 205.5h1M414 206.5h1M414 207.5h1M414 208.5h1M414 217.5h1M414 234.5h1M415 193.5h1M415 203.5h1M415 204.5h1M415 207.5h1M415 223.5h1M420 203.5h1M425 193.5h1M428 206.5h1M430 191.5h1M432 234.5h1M435 196.5h1" stroke="#000" stroke-width="1" fill="none"/>
<rect x="318.7" y="171.5" width="119.8" height="113.1" fill="none" stroke="#000" stroke-width="1.7"/>
<path d="M318.7 228.6H438.5M367.2 171.5V284.6" stroke="#000" stroke-width="1.5" fill="none"/>
<path d="M319.6 284.6v2.8M315.9 171.5h2.8M349.1 284.6v2.8M315.9 199.5h2.8M378.5 284.6v2.8M315.9 227.5h2.8M408 284.6v2.8M315.9 255.5h2.8M437.4 284.6v2.8M315.9 283.5h2.8" stroke="#000" stroke-width="1.4" fill="none"/>
<text x="320.8" y="297.7" font-size="8.1" text-anchor="middle" textLength="9.1" lengthAdjust="spacingAndGlyphs">10</text>
<text x="326.2" y="293.8" font-size="4" text-anchor="start">0</text>
<text x="312.8" y="286.1" font-size="8.1" text-anchor="end" textLength="9.4" lengthAdjust="spacingAndGlyphs">10</text>
<text x="313.8" y="282.5" font-size="4" text-anchor="start">0</text>
<text x="350.2" y="297.7" font-size="8.1" text-anchor="middle" textLength="9.1" lengthAdjust="spacingAndGlyphs">10</text>
<text x="355.7" y="293.8" font-size="4" text-anchor="start">1</text>
<text x="312.8" y="258.1" font-size="8.1" text-anchor="end" textLength="9.4" lengthAdjust="spacingAndGlyphs">10</text>
<text x="313.8" y="254.5" font-size="4" text-anchor="start">1</text>
<text x="379.7" y="297.7" font-size="8.1" text-anchor="middle" textLength="9.1" lengthAdjust="spacingAndGlyphs">10</text>
<text x="385.1" y="293.8" font-size="4" text-anchor="start">2</text>
<text x="312.8" y="230.1" font-size="8.1" text-anchor="end" textLength="9.4" lengthAdjust="spacingAndGlyphs">10</text>
<text x="313.8" y="226.5" font-size="4" text-anchor="start">2</text>
<text x="409.2" y="297.7" font-size="8.1" text-anchor="middle" textLength="9.1" lengthAdjust="spacingAndGlyphs">10</text>
<text x="414.6" y="293.8" font-size="4" text-anchor="start">3</text>
<text x="312.8" y="202.1" font-size="8.1" text-anchor="end" textLength="9.4" lengthAdjust="spacingAndGlyphs">10</text>
<text x="313.8" y="198.5" font-size="4" text-anchor="start">3</text>
<text x="438.6" y="297.7" font-size="8.1" text-anchor="middle" textLength="9.1" lengthAdjust="spacingAndGlyphs">10</text>
<text x="444" y="293.8" font-size="4" text-anchor="start">4</text>
<text x="312.8" y="175" font-size="8.1" text-anchor="end" textLength="9.4" lengthAdjust="spacingAndGlyphs">10</text>
<text x="313.8" y="171.4" font-size="4" text-anchor="start">4</text>
<text x="378.5" y="311.2" font-size="14.6" text-anchor="middle" textLength="31" lengthAdjust="spacingAndGlyphs" class="h1">CD8</text>
<text transform="translate(299.8 233.6) rotate(-90)" x="0" y="0" font-size="16.3" text-anchor="middle" textLength="31.6" lengthAdjust="spacingAndGlyphs" class="h1">CD4</text>
<path d="M320 371.5h1M320 373.5h1M320 376.5h1M320 381.5h1M321 372.5h1M321 373.5h1M321 376.5h1M321 377.5h1M321 378.5h1M321 380.5h1M322 370.5h1M322 372.5h1M322 373.5h1M322 374.5h1M322 376.5h1M322 377.5h1M322 378.5h1M322 379.5h1M323 369.5h1M323 371.5h1M323 374.5h1M323 376.5h1M323 377.5h1M323 378.5h1M323 379.5h1M323 448.5h1M324 367.5h1M324 374.5h1M324 375.5h1M324 376.5h1M324 377.5h1M324 381.5h1M325 369.5h1M325 371.5h1M325 372.5h1M325 373.5h1M325 374.5h1M325 375.5h1M325 376.5h1M325 377.5h1M325 379.5h1M325 380.5h1M325 381.5h1M326 368.5h1M326 369.5h1M326 370.5h1M326 371.5h1M326 372.5h1M326 373.5h1M326 374.5h1M326 375.5h1M326 376.5h1M327 367.5h1M327 371.5h1M327 372.5h1M327 373.5h1M327 374.5h1M327 375.5h1M327 376.5h1M327 381.5h1M327 386.5h1M328 368.5h1M328 369.5h1M328 371.5h1M328 372.5h1M328 373.5h1M328 374.5h1M328 375.5h1M328 376.5h1M328 378.5h1M328 379.5h1M328 380.5h1M328 382.5h1M328 383.5h1M328 390.5h1M329 364.5h1M329 369.5h1M329 370.5h1M329 372.5h1M329 373.5h1M329 374.5h1M329 375.5h1M329 377.5h1M329 378.5h1M329 380.5h1M329 383.5h1M330 369.5h1M330 370.5h1M330 371.5h1M330 372.5h1M330 374.5h1M330 376.5h1M330 377.5h1M330 380.5h1M330 388.5h1M330 389.5h1M331 369.5h1M331 370.5h1M331 371.5h1M331 372.5h1M331 373.5h1M331 374.5h1M331 375.5h1M331 377.5h1M331 378.5h1M332 367.5h1M332 368.5h1M332 370.5h1M332 371.5h1M332 372.5h1M332 373.5h1M332 374.5h1M332 375.5h1M332 376.5h1M332 377.5h1M332 378.5h1M332 379.5h1M332 380.5h1M332 383.5h1M332 417.5h1M332 430.5h1M333 367.5h1M333 368.5h1M333 370.5h1M333 371.5h1M333 372.5h1M333 373.5h1M333 374.5h1M333 375.5h1M333 376.5h1M333 377.5h1M333 378.5h1M333 379.5h1M333 383.5h1M333 384.5h1M334 369.5h1M334 370.5h1M334 371.5h1M334 372.5h1M334 373.5h1M334 374.5h1M334 375.5h1M334 376.5h1M334 377.5h1M334 379.5h1M334 380.5h1M334 382.5h1M334 387.5h1M335 367.5h1M335 368.5h1M335 369.5h1M335 370.5h1M335 371.5h1M335 372.5h1M335 373.5h1M335 374.5h1M335 375.5h1M335 376.5h1M335 377.5h1M335 378.5h1M335 379.5h1M335 381.5h1M335 382.5h1M335 395.5h1M335 417.5h1M335 432.5h1M336 367.5h1M336 369.5h1M336 370.5h1M336 371.5h1M336 372.5h1M336 373.5h1M336 374.5h1M336 375.5h1M336 376.5h1M336 377.5h1M336 378.5h1M336 379.5h1M336 380.5h1M336 381.5h1M336 386.5h1M336 390.5h1M336 424.5h1M336 427.5h1M336 430.5h1M337 368.5h1M337 369.5h1M337 370.5h1M337 371.5h1M337 372.5h1M337 373.5h1M337 374.5h1M337 375.5h1M337 376.5h1M337 377.5h1M337 378.5h1M337 379.5h1M337 380.5h1M337 381.5h1M337 383.5h1M337 384.5h1M337 398.5h1M337 429.5h1M337 430.5h1M338 348.5h1M338 369.5h1M338 370.5h1M338 371.5h1M338 372.5h1M338 373.5h1M338 374.5h1M338 375.5h1M338 376.5h1M338 377.5h1M338 378.5h1M338 379.5h1M338 382.5h1M338 394.5h1M338 396.5h1M338 397.5h1M338 415.5h1M338 423.5h1M338 430.5h1M338 441.5h1M339 364.5h1M339 365.5h1M339 367.5h1M339 368.5h1M339 369.5h1M339 370.5h1M339 371.5h1M339 372.5h1M339 373.5h1M339 374.5h1M339 375.5h1M339 376.5h1M339 377.5h1M339 378.5h1M339 379.5h1M339 380.5h1M339 381.5h1M339 387.5h1M339 394.5h1M339 408.5h1M339 409.5h1M339 419.5h1M339 428.5h1M339 430.5h1M339 431.5h1M339 434.5h1M339 441.5h1M339 447.5h1M339 456.5h1M340 368.5h1M340 369.5h1M340 370.5h1M340 371.5h1M340 372.5h1M340 373.5h1M340 374.5h1M340 375.5h1M340 376.5h1M340 377.5h1M340 378.5h1M340 379.5h1M340 380.5h1M340 381.5h1M340 382.5h1M340 383.5h1M340 386.5h1M340 389.5h1M340 398.5h1M340 406.5h1M340 416.5h1M340 422.5h1M340 441.5h1M341 367.5h1M341 369.5h1M341 370.5h1M341 371.5h1M341 372.5h1M341 373.5h1M341 374.5h1M341 375.5h1M341 376.5h1M341 377.5h1M341 378.5h1M341 379.5h1M341 380.5h1M341 381.5h1M341 382.5h1M341 383.5h1M341 385.5h1M341 389.5h1M341 390.5h1M341 394.5h1M341 414.5h1M341 415.5h1M341 418.5h1M341 420.5h1M341 427.5h1M341 430.5h1M341 443.5h1M342 366.5h1M342 367.5h1M342 369.5h1M342 370.5h1M342 371.5h1M342 372.5h1M342 373.5h1M342 374.5h1M342 375.5h1M342 376.5h1M342 377.5h1M342 378.5h1M342 379.5h1M342 380.5h1M342 381.5h1M342 382.5h1M342 388.5h1M342 393.5h1M342 413.5h1M342 421.5h1M342 428.5h1M342 436.5h1M342 438.5h1M343 365.5h1M343 367.5h1M343 368.5h1M343 369.5h1M343 370.5h1M343 371.5h1M343 372.5h1M343 373.5h1M343 374.5h1M343 375.5h1M343 376.5h1M343 377.5h1M343 378.5h1M343 379.5h1M343 380.5h1M343 381.5h1M343 382.5h1M343 386.5h1M343 399.5h1M343 415.5h1M343 416.5h1M343 422.5h1M343 430.5h1M343 439.5h1M343 444.5h1M344 365.5h1M344 367.5h1M344 368.5h1M344 370.5h1M344 371.5h1M344 372.5h1M344 373.5h1M344 374.5h1M344 375.5h1M344 376.5h1M344 377.5h1M344 378.5h1M344 379.5h1M344 380.5h1M344 381.5h1M344 385.5h1M344 386.5h1M344 389.5h1M344 390.5h1M344 394.5h1M344 396.5h1M344 418.5h1M344 424.5h1M344 429.5h1M344 430.5h1M344 438.5h1M344 444.5h1M344 453.5h1M345 366.5h1M345 367.5h1M345 368.5h1M345 370.5h1M345 371.5h1M345 372.5h1M345 373.5h1M345 374.5h1M345 375.5h1M345 376.5h1M345 377.5h1M345 378.5h1M345 379.5h1M345 380.5h1M345 381.5h1M345 382.5h1M345 383.5h1M345 384.5h1M345 386.5h1M345 388.5h1M345 390.5h1M345 394.5h1M345 395.5h1M345 407.5h1M345 412.5h1M345 415.5h1M345 420.5h1M345 425.5h1M345 427.5h1M345 430.5h1M345 431.5h1M345 437.5h1M345 442.5h1M346 369.5h1M346 370.5h1M346 371.5h1M346 372.5h1M346 373.5h1M346 374.5h1M346 375.5h1M346 376.5h1M346 377.5h1M346 378.5h1M346 379.5h1M346 380.5h1M346 382.5h1M346 386.5h1M346 391.5h1M346 398.5h1M346 401.5h1M346 414.5h1M346 422.5h1M346 423.5h1M346 427.5h1M346 431.5h1M346 436.5h1M346 439.5h1M347 364.5h1M347 367.5h1M347 368.5h1M347 369.5h1M347 370.5h1M347 371.5h1M347 372.5h1M347 373.5h1M347 374.5h1M347 375.5h1M347 376.5h1M347 377.5h1M347 378.5h1M347 379.5h1M347 380.5h1M347 382.5h1M347 383.5h1M347 387.5h1M347 389.5h1M347 390.5h1M347 392.5h1M347 412.5h1M347 417.5h1M347 418.5h1M347 419.5h1M347 421.5h1M347 440.5h1M347 446.5h1M348 366.5h1M348 369.5h1M348 370.5h1M348 371.5h1M348 372.5h1M348 373.5h1M348 374.5h1M348 375.5h1M348 376.5h1M348 377.5h1M348 378.5h1M348 379.5h1M348 380.5h1M348 381.5h1M348 383.5h1M348 384.5h1M348 386.5h1M348 387.5h1M348 390.5h1M348 393.5h1M348 394.5h1M348 395.5h1M348 400.5h1M348 411.5h1M348 421.5h1M348 428.5h1M348 431.5h1M348 433.5h1M348 440.5h1M348 441.5h1M349 364.5h1M349 367.5h1M349 368.5h1M349 369.5h1M349 370.5h1M349 371.5h1M349 372.5h1M349 373.5h1M349 374.5h1M349 375.5h1M349 376.5h1M349 377.5h1M349 378.5h1M349 379.5h1M349 380.5h1M349 381.5h1M349 383.5h1M349 384.5h1M349 386.5h1M349 389.5h1M349 390.5h1M349 395.5h1M349 398.5h1M349 400.5h1M349 404.5h1M349 414.5h1M349 416.5h1M349 419.5h1M349 425.5h1M349 432.5h1M349 434.5h1M349 444.5h1M350 369.5h1M350 370.5h1M350 371.5h1M350 372.5h1M350 373.5h1M350 374.5h1M350 375.5h1M350 376.5h1M350 377.5h1M350 378.5h1M350 379.5h1M350 380.5h1M350 381.5h1M350 383.5h1M350 386.5h1M350 388.5h1M350 389.5h1M350 390.5h1M350 392.5h1M350 393.5h1M350 396.5h1M350 409.5h1M350 415.5h1M350 426.5h1M350 428.5h1M350 429.5h1M350 435.5h1M350 437.5h1M350 440.5h1M350 448.5h1M351 367.5h1M351 369.5h1M351 370.5h1M351 372.5h1M351 373.5h1M351 374.5h1M351 375.5h1M351 376.5h1M351 377.5h1M351 378.5h1M351 379.5h1M351 380.5h1M351 381.5h1M351 385.5h1M351 386.5h1M351 389.5h1M351 396.5h1M351 417.5h1M351 419.5h1M351 420.5h1M351 427.5h1M351 428.5h1M351 432.5h1M351 447.5h1M351 455.5h1M352 366.5h1M352 368.5h1M352 369.5h1M352 370.5h1M352 371.5h1M352 372.5h1M352 373.5h1M352 374.5h1M352 375.5h1M352 376.5h1M352 377.5h1M352 378.5h1M352 379.5h1M352 380.5h1M352 381.5h1M352 382.5h1M352 383.5h1M352 385.5h1M352 390.5h1M352 393.5h1M352 395.5h1M352 397.5h1M352 403.5h1M352 404.5h1M352 411.5h1M352 412.5h1M352 419.5h1M352 421.5h1M352 428.5h1M352 430.5h1M352 431.5h1M352 434.5h1M352 438.5h1M352 446.5h1M352 448.5h1M353 366.5h1M353 369.5h1M353 370.5h1M353 371.5h1M353 372.5h1M353 373.5h1M353 374.5h1M353 375.5h1M353 376.5h1M353 377.5h1M353 378.5h1M353 379.5h1M353 383.5h1M353 386.5h1M353 389.5h1M353 390.5h1M353 392.5h1M353 393.5h1M353 395.5h1M353 396.5h1M353 397.5h1M353 403.5h1M353 415.5h1M353 416.5h1M353 417.5h1M353 421.5h1M353 423.5h1M353 426.5h1M353 432.5h1M353 434.5h1M353 440.5h1M353 447.5h1M354 366.5h1M354 369.5h1M354 370.5h1M354 371.5h1M354 372.5h1M354 373.5h1M354 374.5h1M354 375.5h1M354 376.5h1M354 377.5h1M354 378.5h1M354 379.5h1M354 381.5h1M354 383.5h1M354 385.5h1M354 386.5h1M354 388.5h1M354 390.5h1M354 392.5h1M354 394.5h1M354 412.5h1M354 422.5h1M354 430.5h1M354 433.5h1M355 364.5h1M355 367.5h1M355 369.5h1M355 370.5h1M355 371.5h1M355 372.5h1M355 373.5h1M355 374.5h1M355 375.5h1M355 377.5h1M355 378.5h1M355 379.5h1M355 381.5h1M355 382.5h1M355 390.5h1M355 391.5h1M355 392.5h1M355 393.5h1M355 415.5h1M355 417.5h1M355 422.5h1M355 425.5h1M355 429.5h1M355 430.5h1M355 431.5h1M355 432.5h1M355 444.5h1M355 447.5h1M356 361.5h1M356 365.5h1M356 366.5h1M356 369.5h1M356 372.5h1M356 375.5h1M356 376.5h1M356 377.5h1M356 378.5h1M356 379.5h1M356 382.5h1M356 383.5h1M356 384.5h1M356 386.5h1M356 390.5h1M356 398.5h1M356 409.5h1M356 423.5h1M356 424.5h1M356 430.5h1M356 439.5h1M356 443.5h1M357 363.5h1M357 367.5h1M357 369.5h1M357 370.5h1M357 371.5h1M357 372.5h1M357 373.5h1M357 374.5h1M357 375.5h1M357 376.5h1M357 378.5h1M357 379.5h1M357 380.5h1M357 381.5h1M357 382.5h1M357 383.5h1M357 384.5h1M357 385.5h1M357 388.5h1M357 389.5h1M357 391.5h1M357 418.5h1M357 424.5h1M357 432.5h1M357 446.5h1M358 359.5h1M358 363.5h1M358 365.5h1M358 369.5h1M358 370.5h1M358 371.5h1M358 372.5h1M358 373.5h1M358 374.5h1M358 375.5h1M358 376.5h1M358 377.5h1M358 378.5h1M358 379.5h1M358 380.5h1M358 382.5h1M358 383.5h1M358 385.5h1M358 386.5h1M358 388.5h1M358 389.5h1M358 390.5h1M358 397.5h1M358 415.5h1M358 419.5h1M358 420.5h1M358 423.5h1M358 428.5h1M358 432.5h1M358 435.5h1M358 440.5h1M359 363.5h1M359 364.5h1M359 366.5h1M359 368.5h1M359 369.5h1M359 370.5h1M359 371.5h1M359 372.5h1M359 373.5h1M359 374.5h1M359 375.5h1M359 376.5h1M359 377.5h1M359 378.5h1M359 379.5h1M359 380.5h1M359 382.5h1M359 383.5h1M359 384.5h1M359 387.5h1M359 390.5h1M359 394.5h1M359 397.5h1M359 418.5h1M359 419.5h1M359 429.5h1M359 430.5h1M359 434.5h1M359 435.5h1M359 437.5h1M360 366.5h1M360 368.5h1M360 369.5h1M360 370.5h1M360 372.5h1M360 373.5h1M360 374.5h1M360 375.5h1M360 376.5h1M360 377.5h1M360 378.5h1M360 379.5h1M360 380.5h1M360 381.5h1M360 383.5h1M360 384.5h1M360 386.5h1M360 389.5h1M360 393.5h1M360 394.5h1M360 405.5h1M360 418.5h1M360 419.5h1M360 423.5h1M360 437.5h1M360 445.5h1M361 369.5h1M361 370.5h1M361 371.5h1M361 372.5h1M361 373.5h1M361 375.5h1M361 376.5h1M361 377.5h1M361 378.5h1M361 379.5h1M361 380.5h1M361 381.5h1M361 382.5h1M361 383.5h1M361 386.5h1M361 387.5h1M361 388.5h1M361 391.5h1M361 395.5h1M361 409.5h1M361 415.5h1M361 428.5h1M361 439.5h1M362 367.5h1M362 368.5h1M362 370.5h1M362 372.5h1M362 374.5h1M362 375.5h1M362 376.5h1M362 378.5h1M362 379.5h1M362 383.5h1M362 385.5h1M362 387.5h1M362 390.5h1M362 391.5h1M362 393.5h1M362 398.5h1M362 425.5h1M362 428.5h1M362 436.5h1M362 438.5h1M363 368.5h1M363 371.5h1M363 373.5h1M363 374.5h1M363 375.5h1M363 376.5h1M363 377.5h1M363 379.5h1M363 380.5h1M363 381.5h1M363 385.5h1M363 386.5h1M363 388.5h1M363 390.5h1M363 394.5h1M363 396.5h1M363 400.5h1M364 363.5h1M364 365.5h1M364 371.5h1M364 372.5h1M364 373.5h1M364 374.5h1M364 375.5h1M364 377.5h1M364 378.5h1M364 380.5h1M364 381.5h1M364 382.5h1M364 383.5h1M364 384.5h1M364 385.5h1M364 386.5h1M364 389.5h1M364 390.5h1M364 392.5h1M364 393.5h1M364 399.5h1M364 429.5h1M364 436.5h1M365 362.5h1M365 364.5h1M365 366.5h1M365 367.5h1M365 369.5h1M365 371.5h1M365 372.5h1M365 373.5h1M365 374.5h1M365 375.5h1M365 376.5h1M365 377.5h1M365 378.5h1M365 379.5h1M365 380.5h1M365 383.5h1M365 385.5h1M365 389.5h1M365 392.5h1M365 393.5h1M365 398.5h1M365 413.5h1M366 363.5h1M366 365.5h1M366 367.5h1M366 368.5h1M366 369.5h1M366 371.5h1M366 372.5h1M366 374.5h1M366 377.5h1M366 379.5h1M366 380.5h1M366 381.5h1M366 382.5h1M366 383.5h1M366 384.5h1M366 385.5h1M366 386.5h1M366 387.5h1M366 388.5h1M366 389.5h1M366 393.5h1M366 395.5h1M366 405.5h1M366 408.5h1M367 368.5h1M367 370.5h1M367 372.5h1M367 373.5h1M367 375.5h1M367 376.5h1M367 377.5h1M367 378.5h1M367 380.5h1M367 382.5h1M367 384.5h1M367 385.5h1M367 386.5h1M367 387.5h1M367 388.5h1M367 389.5h1M367 390.5h1M367 392.5h1M367 395.5h1M367 396.5h1M367 398.5h1M368 357.5h1M368 363.5h1M368 364.5h1M368 371.5h1M368 373.5h1M368 376.5h1M368 377.5h1M368 378.5h1M368 379.5h1M368 380.5h1M368 381.5h1M368 382.5h1M368 383.5h1M368 384.5h1M368 385.5h1M368 388.5h1M368 389.5h1M368 390.5h1M368 392.5h1M368 400.5h1M368 437.5h1M369 367.5h1M369 369.5h1M369 370.5h1M369 371.5h1M369 373.5h1M369 374.5h1M369 375.5h1M369 376.5h1M369 377.5h1M369 378.5h1M369 379.5h1M369 380.5h1M369 382.5h1M369 383.5h1M369 384.5h1M369 385.5h1M369 386.5h1M369 388.5h1M369 389.5h1M369 391.5h1M369 393.5h1M369 394.5h1M369 395.5h1M369 399.5h1M370 361.5h1M370 363.5h1M370 366.5h1M370 369.5h1M370 370.5h1M370 371.5h1M370 372.5h1M370 373.5h1M370 374.5h1M370 375.5h1M370 376.5h1M370 377.5h1M370 378.5h1M370 379.5h1M370 380.5h1M370 381.5h1M370 382.5h1M370 383.5h1M370 384.5h1M370 385.5h1M370 386.5h1M370 387.5h1M370 389.5h1M370 391.5h1M370 392.5h1M370 393.5h1M370 394.5h1M370 395.5h1M370 396.5h1M370 415.5h1M371 361.5h1M371 369.5h1M371 370.5h1M371 372.5h1M371 373.5h1M371 374.5h1M371 376.5h1M371 377.5h1M371 378.5h1M371 379.5h1M371 380.5h1M371 382.5h1M371 383.5h1M371 384.5h1M371 385.5h1M371 386.5h1M371 387.5h1M371 388.5h1M371 389.5h1M371 392.5h1M371 393.5h1M371 397.5h1M371 400.5h1M372 364.5h1M372 365.5h1M372 370.5h1M372 372.5h1M372 373.5h1M372 374.5h1M372 375.5h1M372 376.5h1M372 377.5h1M372 378.5h1M372 379.5h1M372 380.5h1M372 382.5h1M372 383.5h1M372 384.5h1M372 385.5h1M372 386.5h1M372 387.5h1M372 389.5h1M372 390.5h1M372 391.5h1M372 397.5h1M372 410.5h1M373 372.5h1M373 374.5h1M373 375.5h1M373 376.5h1M373 377.5h1M373 378.5h1M373 380.5h1M373 381.5h1M373 382.5h1M373 383.5h1M373 384.5h1M373 385.5h1M373 386.5h1M373 387.5h1M373 388.5h1M373 389.5h1M373 390.5h1M373 391.5h1M373 392.5h1M373 393.5h1M373 394.5h1M373 395.5h1M373 399.5h1M373 403.5h1M374 363.5h1M374 366.5h1M374 367.5h1M374 370.5h1M374 372.5h1M374 375.5h1M374 376.5h1M374 378.5h1M374 379.5h1M374 380.5h1M374 381.5h1M374 383.5h1M374 384.5h1M374 385.5h1M374 386.5h1M374 387.5h1M374 388.5h1M374 389.5h1M374 390.5h1M374 391.5h1M374 392.5h1M374 393.5h1M374 394.5h1M374 397.5h1M374 400.5h1M375 362.5h1M375 365.5h1M375 369.5h1M375 370.5h1M375 371.5h1M375 373.5h1M375 375.5h1M375 377.5h1M375 378.5h1M375 380.5h1M375 381.5h1M375 382.5h1M375 383.5h1M375 384.5h1M375 385.5h1M375 386.5h1M375 387.5h1M375 388.5h1M375 389.5h1M375 390.5h1M375 391.5h1M375 392.5h1M375 393.5h1M375 394.5h1M375 395.5h1M375 397.5h1M375 398.5h1M375 399.5h1M375 400.5h1M375 401.5h1M375 406.5h1M376 363.5h1M376 369.5h1M376 370.5h1M376 372.5h1M376 373.5h1M376 374.5h1M376 375.5h1M376 378.5h1M376 379.5h1M376 381.5h1M376 382.5h1M376 383.5h1M376 385.5h1M376 388.5h1M376 389.5h1M376 391.5h1M376 392.5h1M376 394.5h1M376 395.5h1M376 397.5h1M376 399.5h1M376 403.5h1M376 421.5h1M377 369.5h1M377 370.5h1M377 371.5h1M377 373.5h1M377 375.5h1M377 376.5h1M377 378.5h1M377 380.5h1M377 381.5h1M377 382.5h1M377 383.5h1M377 384.5h1M377 385.5h1M377 386.5h1M377 388.5h1M377 389.5h1M377 390.5h1M377 391.5h1M377 392.5h1M377 393.5h1M377 394.5h1M377 396.5h1M377 398.5h1M377 399.5h1M377 415.5h1M378 360.5h1M378 366.5h1M378 370.5h1M378 373.5h1M378 374.5h1M378 375.5h1M378 376.5h1M378 377.5h1M378 379.5h1M378 380.5h1M378 383.5h1M378 385.5h1M378 386.5h1M378 387.5h1M378 388.5h1M378 390.5h1M378 391.5h1M378 392.5h1M378 393.5h1M378 397.5h1M378 398.5h1M378 399.5h1M378 410.5h1M379 369.5h1M379 371.5h1M379 372.5h1M379 373.5h1M379 374.5h1M379 378.5h1M379 379.5h1M379 383.5h1M379 385.5h1M379 386.5h1M379 388.5h1M379 389.5h1M379 390.5h1M379 392.5h1M379 393.5h1M379 395.5h1M379 398.5h1M379 400.5h1M379 405.5h1M379 409.5h1M380 370.5h1M380 372.5h1M380 375.5h1M380 378.5h1M380 379.5h1M380 380.5h1M380 381.5h1M380 383.5h1M380 384.5h1M380 385.5h1M380 387.5h1M380 388.5h1M380 389.5h1M380 390.5h1M380 391.5h1M380 393.5h1M380 394.5h1M380 395.5h1M380 397.5h1M380 409.5h1M380 412.5h1M381 371.5h1M381 372.5h1M381 375.5h1M381 378.5h1M381 379.5h1M381 380.5h1M381 384.5h1M381 389.5h1M381 391.5h1M381 392.5h1M381 393.5h1M381 394.5h1M381 395.5h1M381 397.5h1M381 402.5h1M381 404.5h1M381 409.5h1M381 421.5h1M382 368.5h1M382 372.5h1M382 373.5h1M382 374.5h1M382 375.5h1M382 378.5h1M382 380.5h1M382 382.5h1M382 383.5h1M382 384.5h1M382 386.5h1M382 388.5h1M382 389.5h1M382 391.5h1M382 392.5h1M382 394.5h1M382 395.5h1M382 396.5h1M382 397.5h1M382 400.5h1M382 401.5h1M382 445.5h1M383 368.5h1M383 369.5h1M383 370.5h1M383 371.5h1M383 372.5h1M383 373.5h1M383 374.5h1M383 375.5h1M383 376.5h1M383 377.5h1M383 378.5h1M383 379.5h1M383 380.5h1M383 381.5h1M383 382.5h1M383 384.5h1M383 385.5h1M383 386.5h1M383 387.5h1M383 388.5h1M383 389.5h1M383 391.5h1M383 392.5h1M383 394.5h1M383 396.5h1M383 398.5h1M383 400.5h1M383 402.5h1M383 407.5h1M383 408.5h1M383 411.5h1M383 416.5h1M383 425.5h1M383 439.5h1M384 369.5h1M384 370.5h1M384 371.5h1M384 372.5h1M384 373.5h1M384 374.5h1M384 375.5h1M384 376.5h1M384 377.5h1M384 378.5h1M384 379.5h1M384 380.5h1M384 381.5h1M384 382.5h1M384 383.5h1M384 384.5h1M384 386.5h1M384 387.5h1M384 393.5h1M384 394.5h1M384 395.5h1M384 396.5h1M384 399.5h1M384 400.5h1M384 406.5h1M384 407.5h1M384 408.5h1M384 410.5h1M384 411.5h1M384 412.5h1M384 414.5h1M384 415.5h1M384 417.5h1M384 420.5h1M385 366.5h1M385 367.5h1M385 368.5h1M385 369.5h1M385 371.5h1M385 372.5h1M385 373.5h1M385 374.5h1M385 375.5h1M385 376.5h1M385 377.5h1M385 378.5h1M385 379.5h1M385 380.5h1M385 381.5h1M385 382.5h1M385 383.5h1M385 384.5h1M385 385.5h1M385 386.5h1M385 387.5h1M385 388.5h1M385 390.5h1M385 391.5h1M385 392.5h1M385 393.5h1M385 394.5h1M385 395.5h1M385 399.5h1M385 400.5h1M385 403.5h1M385 404.5h1M385 406.5h1M385 410.5h1M385 418.5h1M385 422.5h1M385 430.5h1M385 436.5h1M385 444.5h1M385 446.5h1M386 366.5h1M386 368.5h1M386 369.5h1M386 370.5h1M386 371.5h1M386 372.5h1M386 373.5h1M386 374.5h1M386 375.5h1M386 376.5h1M386 377.5h1M386 379.5h1M386 380.5h1M386 381.5h1M386 382.5h1M386 383.5h1M386 384.5h1M386 385.5h1M386 386.5h1M386 387.5h1M386 388.5h1M386 389.5h1M386 390.5h1M386 392.5h1M386 393.5h1M386 395.5h1M386 397.5h1M386 398.5h1M386 403.5h1M386 404.5h1M386 406.5h1M386 408.5h1M386 410.5h1M386 412.5h1M386 415.5h1M386 418.5h1M386 425.5h1M386 430.5h1M386 434.5h1M386 443.5h1M387 366.5h1M387 367.5h1M387 368.5h1M387 369.5h1M387 370.5h1M387 371.5h1M387 372.5h1M387 373.5h1M387 374.5h1M387 375.5h1M387 376.5h1M387 377.5h1M387 378.5h1M387 379.5h1M387 380.5h1M387 381.5h1M387 382.5h1M387 383.5h1M387 384.5h1M387 385.5h1M387 386.5h1M387 387.5h1M387 388.5h1M387 390.5h1M387 391.5h1M387 394.5h1M387 396.5h1M387 398.5h1M387 399.5h1M387 400.5h1M387 402.5h1M387 405.5h1M387 406.5h1M387 408.5h1M387 413.5h1M387 418.5h1M387 433.5h1M387 442.5h1M388 366.5h1M388 367.5h1M388 368.5h1M388 369.5h1M388 370.5h1M388 371.5h1M388 372.5h1M388 373.5h1M388 374.5h1M388 375.5h1M388 376.5h1M388 377.5h1M388 378.5h1M388 379.5h1M388 380.5h1M388 381.5h1M388 382.5h1M388 383.5h1M388 384.5h1M388 385.5h1M388 386.5h1M388 387.5h1M388 388.5h1M388 389.5h1M388 390.5h1M388 391.5h1M388 392.5h1M388 396.5h1M388 397.5h1M388 398.5h1M388 400.5h1M388 406.5h1M388 407.5h1M388 409.5h1M388 410.5h1M388 411.5h1M388 413.5h1M388 416.5h1M388 418.5h1M388 427.5h1M388 428.5h1M388 431.5h1M388 432.5h1M388 433.5h1M388 434.5h1M388 440.5h1M388 442.5h1M388 446.5h1M388 447.5h1M389 365.5h1M389 366.5h1M389 367.5h1M389 368.5h1M389 369.5h1M389 370.5h1M389 371.5h1M389 372.5h1M389 373.5h1M389 374.5h1M389 375.5h1M389 376.5h1M389 377.5h1M389 378.5h1M389 379.5h1M389 380.5h1M389 381.5h1M389 382.5h1M389 383.5h1M389 384.5h1M389 385.5h1M389 386.5h1M389 387.5h1M389 388.5h1M389 389.5h1M389 391.5h1M389 392.5h1M389 395.5h1M389 397.5h1M389 399.5h1M389 400.5h1M389 402.5h1M389 410.5h1M389 411.5h1M389 414.5h1M389 415.5h1M389 416.5h1M389 417.5h1M389 419.5h1M389 426.5h1M389 431.5h1M389 434.5h1M389 435.5h1M389 437.5h1M389 442.5h1M389 443.5h1M389 444.5h1M389 446.5h1M389 450.5h1M390 364.5h1M390 365.5h1M390 366.5h1M390 367.5h1M390 368.5h1M390 369.5h1M390 370.5h1M390 371.5h1M390 372.5h1M390 373.5h1M390 374.5h1M390 375.5h1M390 376.5h1M390 377.5h1M390 378.5h1M390 379.5h1M390 380.5h1M390 381.5h1M390 382.5h1M390 383.5h1M390 384.5h1M390 385.5h1M390 386.5h1M390 387.5h1M390 388.5h1M390 390.5h1M390 391.5h1M390 392.5h1M390 395.5h1M390 397.5h1M390 398.5h1M390 399.5h1M390 402.5h1M390 403.5h1M390 404.5h1M390 406.5h1M390 409.5h1M390 411.5h1M390 420.5h1M390 422.5h1M390 423.5h1M390 424.5h1M390 425.5h1M390 427.5h1M390 428.5h1M390 429.5h1M390 432.5h1M390 433.5h1M390 435.5h1M390 436.5h1M390 440.5h1M390 442.5h1M390 447.5h1M390 453.5h1M391 363.5h1M391 366.5h1M391 367.5h1M391 368.5h1M391 369.5h1M391 370.5h1M391 371.5h1M391 372.5h1M391 373.5h1M391 374.5h1M391 375.5h1M391 376.5h1M391 377.5h1M391 378.5h1M391 379.5h1M391 380.5h1M391 381.5h1M391 382.5h1M391 383.5h1M391 384.5h1M391 385.5h1M391 386.5h1M391 387.5h1M391 388.5h1M391 389.5h1M391 390.5h1M391 391.5h1M391 392.5h1M391 393.5h1M391 397.5h1M391 399.5h1M391 402.5h1M391 404.5h1M391 405.5h1M391 406.5h1M391 408.5h1M391 410.5h1M391 412.5h1M391 415.5h1M391 417.5h1M391 418.5h1M391 419.5h1M391 421.5h1M391 423.5h1M391 424.5h1M391 425.5h1M391 426.5h1M391 427.5h1M391 428.5h1M391 430.5h1M391 431.5h1M391 432.5h1M391 434.5h1M391 435.5h1M391 440.5h1M391 449.5h1M391 450.5h1M392 353.5h1M392 365.5h1M392 366.5h1M392 367.5h1M392 368.5h1M392 369.5h1M392 370.5h1M392 371.5h1M392 372.5h1M392 373.5h1M392 374.5h1M392 375.5h1M392 377.5h1M392 378.5h1M392 379.5h1M392 380.5h1M392 381.5h1M392 382.5h1M392 383.5h1M392 384.5h1M392 385.5h1M392 386.5h1M392 387.5h1M392 388.5h1M392 389.5h1M392 390.5h1M392 392.5h1M392 393.5h1M392 394.5h1M392 400.5h1M392 404.5h1M392 408.5h1M392 409.5h1M392 412.5h1M392 414.5h1M392 415.5h1M392 418.5h1M392 421.5h1M392 422.5h1M392 423.5h1M392 424.5h1M392 425.5h1M392 428.5h1M392 429.5h1M392 430.5h1M392 431.5h1M392 434.5h1M392 435.5h1M392 438.5h1M392 441.5h1M392 444.5h1M392 445.5h1M392 446.5h1M392 447.5h1M392 448.5h1M392 454.5h1M393 363.5h1M393 364.5h1M393 365.5h1M393 366.5h1M393 367.5h1M393 368.5h1M393 369.5h1M393 370.5h1M393 371.5h1M393 372.5h1M393 373.5h1M393 374.5h1M393 375.5h1M393 376.5h1M393 377.5h1M393 378.5h1M393 379.5h1M393 380.5h1M393 381.5h1M393 382.5h1M393 383.5h1M393 384.5h1M393 385.5h1M393 386.5h1M393 387.5h1M393 388.5h1M393 389.5h1M393 390.5h1M393 392.5h1M393 394.5h1M393 396.5h1M393 397.5h1M393 398.5h1M393 400.5h1M393 406.5h1M393 407.5h1M393 410.5h1M393 411.5h1M393 412.5h1M393 415.5h1M393 417.5h1M393 423.5h1M393 426.5h1M393 428.5h1M393 430.5h1M393 431.5h1M393 432.5h1M393 433.5h1M393 434.5h1M393 437.5h1M393 439.5h1M393 440.5h1M393 441.5h1M393 442.5h1M393 443.5h1M393 444.5h1M393 445.5h1M393 447.5h1M393 448.5h1M393 449.5h1M393 450.5h1M393 452.5h1M393 453.5h1M394 362.5h1M394 364.5h1M394 365.5h1M394 367.5h1M394 368.5h1M394 369.5h1M394 370.5h1M394 371.5h1M394 372.5h1M394 373.5h1M394 374.5h1M394 375.5h1M394 376.5h1M394 378.5h1M394 379.5h1M394 380.5h1M394 381.5h1M394 382.5h1M394 383.5h1M394 384.5h1M394 385.5h1M394 386.5h1M394 387.5h1M394 388.5h1M394 389.5h1M394 390.5h1M394 391.5h1M394 393.5h1M394 394.5h1M394 395.5h1M394 396.5h1M394 400.5h1M394 401.5h1M394 402.5h1M394 403.5h1M394 407.5h1M394 409.5h1M394 410.5h1M394 411.5h1M394 412.5h1M394 415.5h1M394 416.5h1M394 418.5h1M394 420.5h1M394 421.5h1M394 422.5h1M394 424.5h1M394 425.5h1M394 426.5h1M394 427.5h1M394 428.5h1M394 429.5h1M394 431.5h1M394 434.5h1M394 435.5h1M394 437.5h1M394 439.5h1M394 440.5h1M394 441.5h1M394 442.5h1M394 444.5h1M394 445.5h1M394 446.5h1M394 448.5h1M394 452.5h1M394 454.5h1M395 363.5h1M395 364.5h1M395 365.5h1M395 366.5h1M395 367.5h1M395 368.5h1M395 369.5h1M395 370.5h1M395 371.5h1M395 372.5h1M395 373.5h1M395 374.5h1M395 375.5h1M395 376.5h1M395 377.5h1M395 378.5h1M395 380.5h1M395 381.5h1M395 382.5h1M395 383.5h1M395 384.5h1M395 385.5h1M395 386.5h1M395 387.5h1M395 388.5h1M395 389.5h1M395 390.5h1M395 397.5h1M395 398.5h1M395 401.5h1M395 403.5h1M395 404.5h1M395 405.5h1M395 406.5h1M395 408.5h1M395 409.5h1M395 410.5h1M395 411.5h1M395 412.5h1M395 416.5h1M395 417.5h1M395 418.5h1M395 419.5h1M395 420.5h1M395 421.5h1M395 422.5h1M395 424.5h1M395 425.5h1M395 426.5h1M395 427.5h1M395 428.5h1M395 429.5h1M395 430.5h1M395 431.5h1M395 432.5h1M395 433.5h1M395 434.5h1M395 435.5h1M395 436.5h1M395 437.5h1M395 438.5h1M395 439.5h1M395 440.5h1M395 441.5h1M395 444.5h1M395 445.5h1M395 447.5h1M395 451.5h1M396 362.5h1M396 363.5h1M396 364.5h1M396 365.5h1M396 366.5h1M396 367.5h1M396 368.5h1M396 369.5h1M396 370.5h1M396 371.5h1M396 372.5h1M396 373.5h1M396 374.5h1M396 375.5h1M396 376.5h1M396 377.5h1M396 378.5h1M396 379.5h1M396 380.5h1M396 381.5h1M396 382.5h1M396 383.5h1M396 384.5h1M396 385.5h1M396 386.5h1M396 387.5h1M396 388.5h1M396 389.5h1M396 390.5h1M396 391.5h1M396 393.5h1M396 394.5h1M396 395.5h1M396 396.5h1M396 400.5h1M396 404.5h1M396 405.5h1M396 406.5h1M396 408.5h1M396 410.5h1M396 411.5h1M396 413.5h1M396 414.5h1M396 415.5h1M396 416.5h1M396 417.5h1M396 419.5h1M396 421.5h1M396 423.5h1M396 424.5h1M396 425.5h1M396 426.5h1M396 427.5h1M396 428.5h1M396 429.5h1M396 430.5h1M396 433.5h1M396 434.5h1M396 435.5h1M396 436.5h1M396 437.5h1M396 438.5h1M396 439.5h1M396 440.5h1M396 443.5h1M396 444.5h1M396 445.5h1M396 450.5h1M396 452.5h1M396 453.5h1M396 456.5h1M397 364.5h1M397 365.5h1M397 366.5h1M397 367.5h1M397 368.5h1M397 369.5h1M397 370.5h1M397 371.5h1M397 372.5h1M397 373.5h1M397 374.5h1M397 375.5h1M397 376.5h1M397 377.5h1M397 378.5h1M397 379.5h1M397 380.5h1M397 381.5h1M397 382.5h1M397 383.5h1M397 384.5h1M397 385.5h1M397 386.5h1M397 387.5h1M397 388.5h1M397 389.5h1M397 393.5h1M397 398.5h1M397 404.5h1M397 407.5h1M397 409.5h1M397 413.5h1M397 414.5h1M397 415.5h1M397 416.5h1M397 418.5h1M397 424.5h1M397 425.5h1M397 426.5h1M397 427.5h1M397 428.5h1M397 429.5h1M397 430.5h1M397 431.5h1M397 432.5h1M397 433.5h1M397 434.5h1M397 435.5h1M397 438.5h1M397 439.5h1M397 440.5h1M397 442.5h1M397 443.5h1M397 444.5h1M397 449.5h1M398 363.5h1M398 365.5h1M398 366.5h1M398 367.5h1M398 368.5h1M398 369.5h1M398 370.5h1M398 371.5h1M398 372.5h1M398 373.5h1M398 374.5h1M398 375.5h1M398 376.5h1M398 377.5h1M398 378.5h1M398 379.5h1M398 380.5h1M398 381.5h1M398 382.5h1M398 383.5h1M398 384.5h1M398 385.5h1M398 386.5h1M398 387.5h1M398 389.5h1M398 390.5h1M398 391.5h1M398 392.5h1M398 393.5h1M398 394.5h1M398 395.5h1M398 399.5h1M398 406.5h1M398 408.5h1M398 411.5h1M398 412.5h1M398 415.5h1M398 417.5h1M398 419.5h1M398 421.5h1M398 422.5h1M398 423.5h1M398 425.5h1M398 427.5h1M398 428.5h1M398 429.5h1M398 430.5h1M398 432.5h1M398 433.5h1M398 435.5h1M398 436.5h1M398 438.5h1M398 440.5h1M398 441.5h1M398 444.5h1M398 445.5h1M398 448.5h1M398 451.5h1M398 454.5h1M399 362.5h1M399 364.5h1M399 365.5h1M399 366.5h1M399 367.5h1M399 368.5h1M399 369.5h1M399 370.5h1M399 371.5h1M399 372.5h1M399 373.5h1M399 374.5h1M399 375.5h1M399 376.5h1M399 377.5h1M399 378.5h1M399 379.5h1M399 380.5h1M399 381.5h1M399 382.5h1M399 383.5h1M399 384.5h1M399 385.5h1M399 386.5h1M399 387.5h1M399 388.5h1M399 389.5h1M399 393.5h1M399 394.5h1M399 404.5h1M399 408.5h1M399 409.5h1M399 414.5h1M399 417.5h1M399 418.5h1M399 419.5h1M399 420.5h1M399 422.5h1M399 423.5h1M399 424.5h1M399 425.5h1M399 426.5h1M399 427.5h1M399 429.5h1M399 431.5h1M399 433.5h1M399 434.5h1M399 435.5h1M399 438.5h1M399 439.5h1M399 440.5h1M399 442.5h1M399 443.5h1M399 444.5h1M399 446.5h1M399 448.5h1M399 449.5h1M399 452.5h1M400 362.5h1M400 364.5h1M400 365.5h1M400 366.5h1M400 367.5h1M400 368.5h1M400 369.5h1M400 370.5h1M400 371.5h1M400 372.5h1M400 373.5h1M400 374.5h1M400 375.5h1M400 376.5h1M400 377.5h1M400 378.5h1M400 379.5h1M400 380.5h1M400 381.5h1M400 382.5h1M400 383.5h1M400 384.5h1M400 385.5h1M400 386.5h1M400 387.5h1M400 388.5h1M400 389.5h1M400 400.5h1M400 406.5h1M400 408.5h1M400 409.5h1M400 412.5h1M400 414.5h1M400 415.5h1M400 417.5h1M400 418.5h1M400 422.5h1M400 423.5h1M400 425.5h1M400 427.5h1M400 428.5h1M400 429.5h1M400 430.5h1M400 431.5h1M400 432.5h1M400 435.5h1M400 438.5h1M400 442.5h1M400 445.5h1M400 446.5h1M400 449.5h1M401 360.5h1M401 362.5h1M401 363.5h1M401 365.5h1M401 366.5h1M401 367.5h1M401 368.5h1M401 369.5h1M401 370.5h1M401 371.5h1M401 372.5h1M401 373.5h1M401 374.5h1M401 375.5h1M401 376.5h1M401 377.5h1M401 378.5h1M401 379.5h1M401 380.5h1M401 381.5h1M401 382.5h1M401 383.5h1M401 384.5h1M401 385.5h1M401 386.5h1M401 387.5h1M401 390.5h1M401 391.5h1M401 392.5h1M401 393.5h1M401 399.5h1M401 400.5h1M401 406.5h1M401 409.5h1M401 410.5h1M401 411.5h1M401 414.5h1M401 415.5h1M401 420.5h1M401 421.5h1M401 422.5h1M401 427.5h1M401 429.5h1M401 430.5h1M401 431.5h1M401 432.5h1M401 434.5h1M401 438.5h1M401 440.5h1M401 441.5h1M401 442.5h1M401 443.5h1M402 364.5h1M402 366.5h1M402 367.5h1M402 368.5h1M402 369.5h1M402 370.5h1M402 372.5h1M402 373.5h1M402 374.5h1M402 375.5h1M402 376.5h1M402 377.5h1M402 378.5h1M402 379.5h1M402 380.5h1M402 381.5h1M402 382.5h1M402 383.5h1M402 384.5h1M402 385.5h1M402 386.5h1M402 387.5h1M402 388.5h1M402 389.5h1M402 390.5h1M402 392.5h1M402 393.5h1M402 396.5h1M402 399.5h1M402 400.5h1M402 408.5h1M402 410.5h1M402 413.5h1M402 421.5h1M402 423.5h1M402 425.5h1M402 426.5h1M402 428.5h1M402 431.5h1M402 432.5h1M402 434.5h1M402 436.5h1M402 437.5h1M402 438.5h1M402 442.5h1M403 362.5h1M403 363.5h1M403 364.5h1M403 365.5h1M403 366.5h1M403 367.5h1M403 368.5h1M403 369.5h1M403 370.5h1M403 371.5h1M403 372.5h1M403 373.5h1M403 374.5h1M403 375.5h1M403 376.5h1M403 377.5h1M403 378.5h1M403 379.5h1M403 380.5h1M403 381.5h1M403 382.5h1M403 383.5h1M403 384.5h1M403 385.5h1M403 386.5h1M403 388.5h1M403 389.5h1M403 393.5h1M403 405.5h1M403 410.5h1M403 411.5h1M403 412.5h1M403 413.5h1M403 423.5h1M403 429.5h1M403 430.5h1M403 438.5h1M403 440.5h1M404 361.5h1M404 362.5h1M404 363.5h1M404 364.5h1M404 365.5h1M404 366.5h1M404 367.5h1M404 368.5h1M404 369.5h1M404 370.5h1M404 371.5h1M404 372.5h1M404 373.5h1M404 374.5h1M404 375.5h1M404 376.5h1M404 377.5h1M404 378.5h1M404 379.5h1M404 380.5h1M404 381.5h1M404 383.5h1M404 384.5h1M404 385.5h1M404 386.5h1M404 387.5h1M404 388.5h1M404 389.5h1M404 392.5h1M404 396.5h1M404 402.5h1M404 405.5h1M404 410.5h1M404 414.5h1M404 424.5h1M404 426.5h1M404 428.5h1M404 437.5h1M404 448.5h1M405 361.5h1M405 363.5h1M405 364.5h1M405 365.5h1M405 366.5h1M405 367.5h1M405 368.5h1M405 369.5h1M405 370.5h1M405 371.5h1M405 372.5h1M405 373.5h1M405 374.5h1M405 375.5h1M405 376.5h1M405 377.5h1M405 378.5h1M405 379.5h1M405 380.5h1M405 381.5h1M405 382.5h1M405 383.5h1M405 384.5h1M405 387.5h1M405 392.5h1M405 395.5h1M405 406.5h1M405 421.5h1M405 433.5h1M406 360.5h1M406 363.5h1M406 365.5h1M406 366.5h1M406 367.5h1M406 368.5h1M406 369.5h1M406 370.5h1M406 371.5h1M406 372.5h1M406 373.5h1M406 374.5h1M406 375.5h1M406 376.5h1M406 377.5h1M406 378.5h1M406 379.5h1M406 380.5h1M406 381.5h1M406 382.5h1M406 383.5h1M406 384.5h1M406 385.5h1M406 387.5h1M406 388.5h1M406 390.5h1M406 407.5h1M406 411.5h1M406 414.5h1M406 442.5h1M407 362.5h1M407 363.5h1M407 364.5h1M407 365.5h1M407 366.5h1M407 367.5h1M407 368.5h1M407 369.5h1M407 370.5h1M407 371.5h1M407 372.5h1M407 373.5h1M407 374.5h1M407 375.5h1M407 376.5h1M407 377.5h1M407 378.5h1M407 379.5h1M407 380.5h1M407 381.5h1M407 382.5h1M407 383.5h1M407 384.5h1M407 385.5h1M407 389.5h1M407 405.5h1M407 412.5h1M407 417.5h1M408 360.5h1M408 362.5h1M408 363.5h1M408 364.5h1M408 365.5h1M408 366.5h1M408 367.5h1M408 368.5h1M408 369.5h1M408 370.5h1M408 371.5h1M408 372.5h1M408 373.5h1M408 374.5h1M408 375.5h1M408 376.5h1M408 377.5h1M408 378.5h1M408 379.5h1M408 380.5h1M408 381.5h1M408 382.5h1M408 383.5h1M408 393.5h1M408 396.5h1M408 412.5h1M408 425.5h1M409 363.5h1M409 364.5h1M409 365.5h1M409 366.5h1M409 367.5h1M409 368.5h1M409 369.5h1M409 370.5h1M409 371.5h1M409 372.5h1M409 373.5h1M409 374.5h1M409 375.5h1M409 376.5h1M409 377.5h1M409 378.5h1M409 379.5h1M409 380.5h1M409 381.5h1M409 382.5h1M409 383.5h1M409 384.5h1M409 385.5h1M409 390.5h1M409 398.5h1M409 413.5h1M410 360.5h1M410 364.5h1M410 365.5h1M410 366.5h1M410 367.5h1M410 368.5h1M410 369.5h1M410 370.5h1M410 371.5h1M410 372.5h1M410 373.5h1M410 374.5h1M410 375.5h1M410 376.5h1M410 378.5h1M410 379.5h1M410 380.5h1M410 381.5h1M410 392.5h1M411 361.5h1M411 363.5h1M411 364.5h1M411 365.5h1M411 366.5h1M411 367.5h1M411 368.5h1M411 369.5h1M411 370.5h1M411 371.5h1M411 372.5h1M411 373.5h1M411 374.5h1M411 375.5h1M411 376.5h1M411 377.5h1M411 380.5h1M411 381.5h1M411 398.5h1M412 361.5h1M412 362.5h1M412 363.5h1M412 364.5h1M412 365.5h1M412 366.5h1M412 367.5h1M412 368.5h1M412 369.5h1M412 370.5h1M412 371.5h1M412 372.5h1M412 375.5h1M412 376.5h1M412 379.5h1M412 382.5h1M412 395.5h1M412 405.5h1M413 361.5h1M413 362.5h1M413 365.5h1M413 366.5h1M413 367.5h1M413 368.5h1M413 369.5h1M413 371.5h1M413 377.5h1M413 378.5h1M413 381.5h1M413 390.5h1M413 407.5h1M413 438.5h1M414 362.5h1M414 363.5h1M414 365.5h1M414 366.5h1M414 368.5h1M414 369.5h1M414 370.5h1M414 371.5h1M414 372.5h1M414 373.5h1M414 396.5h1M415 364.5h1M415 365.5h1M415 368.5h1M415 371.5h1M415 373.5h1M416 364.5h1M416 366.5h1M416 367.5h1M416 420.5h1M417 368.5h1M417 435.5h1M419 446.5h1M422 377.5h1M428 400.5h1M432 378.5h1" stroke="#000" stroke-width="1" fill="none"/>
<rect x="318.7" y="343.8" width="119.8" height="114.2" fill="none" stroke="#000" stroke-width="1.7"/>
<path d="M318.7 402.2H438.5M367.2 343.8V458" stroke="#000" stroke-width="1.5" fill="none"/>
<path d="M319.6 458v2.8M315.9 343.8h2.8M349.1 458v2.8M315.9 371.8h2.8M378.5 458v2.8M315.9 399.8h2.8M408 458v2.8M315.9 427.8h2.8M437.4 458v2.8M315.9 455.8h2.8" stroke="#000" stroke-width="1.4" fill="none"/>
<text x="320.8" y="471.1" font-size="8.1" text-anchor="middle" textLength="9.1" lengthAdjust="spacingAndGlyphs">10</text>
<text x="326.2" y="467.2" font-size="4" text-anchor="start">0</text>
<text x="312.8" y="458.4" font-size="8.1" text-anchor="end" textLength="9.4" lengthAdjust="spacingAndGlyphs">10</text>
<text x="313.8" y="454.8" font-size="4" text-anchor="start">0</text>
<text x="350.2" y="471.1" font-size="8.1" text-anchor="middle" textLength="9.1" lengthAdjust="spacingAndGlyphs">10</text>
<text x="355.7" y="467.2" font-size="4" text-anchor="start">1</text>
<text x="312.8" y="430.4" font-size="8.1" text-anchor="end" textLength="9.4" lengthAdjust="spacingAndGlyphs">10</text>
<text x="313.8" y="426.8" font-size="4" text-anchor="start">1</text>
<text x="379.7" y="471.1" font-size="8.1" text-anchor="middle" textLength="9.1" lengthAdjust="spacingAndGlyphs">10</text>
<text x="385.1" y="467.2" font-size="4" text-anchor="start">2</text>
<text x="312.8" y="402.4" font-size="8.1" text-anchor="end" textLength="9.4" lengthAdjust="spacingAndGlyphs">10</text>
<text x="313.8" y="398.8" font-size="4" text-anchor="start">2</text>
<text x="409.2" y="471.1" font-size="8.1" text-anchor="middle" textLength="9.1" lengthAdjust="spacingAndGlyphs">10</text>
<text x="414.6" y="467.2" font-size="4" text-anchor="start">3</text>
<text x="312.8" y="374.4" font-size="8.1" text-anchor="end" textLength="9.4" lengthAdjust="spacingAndGlyphs">10</text>
<text x="313.8" y="370.8" font-size="4" text-anchor="start">3</text>
<text x="438.6" y="471.1" font-size="8.1" text-anchor="middle" textLength="9.1" lengthAdjust="spacingAndGlyphs">10</text>
<text x="444" y="467.2" font-size="4" text-anchor="start">4</text>
<text x="312.8" y="347.3" font-size="8.1" text-anchor="end" textLength="9.4" lengthAdjust="spacingAndGlyphs">10</text>
<text x="313.8" y="343.7" font-size="4" text-anchor="start">4</text>
<text x="378.5" y="484.6" font-size="14.6" text-anchor="middle" textLength="31" lengthAdjust="spacingAndGlyphs" class="h1">CD8</text>
<text transform="translate(299.8 406.6) rotate(-90)" x="0" y="0" font-size="16.3" text-anchor="middle" textLength="31.6" lengthAdjust="spacingAndGlyphs" class="h1">CD4</text>
<path d="M443.8 23.2H517.6" stroke="#000" stroke-width="1.8"/>
<path d="M481 3.4V42.4" stroke="#000" stroke-width="1.4"/>
<text x="477.4" y="18.7" font-size="15.4" text-anchor="end" textLength="23.4" lengthAdjust="spacingAndGlyphs" class="h2">8.2</text>
<text x="516.9" y="18.7" font-size="15.4" text-anchor="end" textLength="31.4" lengthAdjust="spacingAndGlyphs" class="h2">84.1</text>
<text x="477.4" y="38.2" font-size="15.4" text-anchor="end" textLength="22.9" lengthAdjust="spacingAndGlyphs" class="h2">3.4</text>
<text x="516.9" y="38.2" font-size="15.4" text-anchor="end" textLength="22.4" lengthAdjust="spacingAndGlyphs" class="h2">2.5</text>
<path d="M443.8 191.5H517.6" stroke="#000" stroke-width="1.8"/>
<path d="M481 170.4V209.4" stroke="#000" stroke-width="1.4"/>
<text x="477.4" y="187" font-size="15.4" text-anchor="end" textLength="32.4" lengthAdjust="spacingAndGlyphs" class="h2">11.9</text>
<text x="516.9" y="187" font-size="15.4" text-anchor="end" textLength="33.1" lengthAdjust="spacingAndGlyphs" class="h2">84.2</text>
<text x="477.4" y="206.5" font-size="15.4" text-anchor="end" textLength="22.8" lengthAdjust="spacingAndGlyphs" class="h2">0.7</text>
<text x="516.9" y="206.5" font-size="15.4" text-anchor="end" textLength="22.8" lengthAdjust="spacingAndGlyphs" class="h2">0.5</text>
<path d="M443.8 364H517.6" stroke="#000" stroke-width="1.8"/>
<path d="M481 343.4V382.4" stroke="#000" stroke-width="1.4"/>
<text x="477.4" y="359.5" font-size="15.4" text-anchor="end" textLength="32.4" lengthAdjust="spacingAndGlyphs" class="h2">18.7</text>
<text x="516.9" y="359.5" font-size="15.4" text-anchor="end" textLength="32.4" lengthAdjust="spacingAndGlyphs" class="h2">74.0</text>
<text x="477.4" y="379" font-size="15.4" text-anchor="end" textLength="22.8" lengthAdjust="spacingAndGlyphs" class="h2">1.2</text>
<text x="516.9" y="379" font-size="15.4" text-anchor="end" textLength="21.4" lengthAdjust="spacingAndGlyphs" class="h2">3.8</text>
</svg></body></html>
